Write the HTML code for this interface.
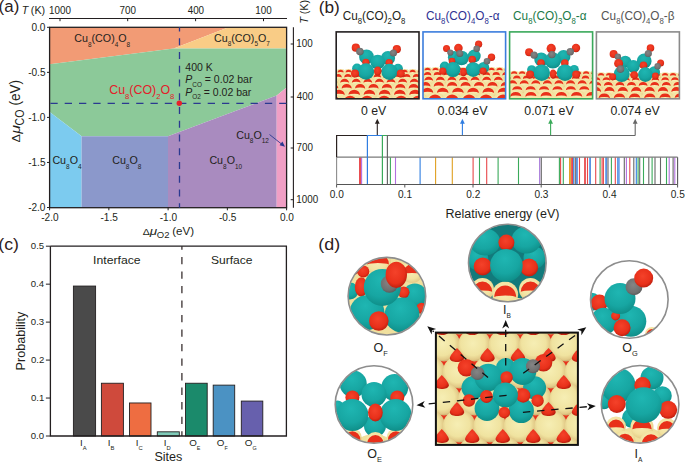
<!DOCTYPE html>
<html><head><meta charset="utf-8"><style>html,body{margin:0;padding:0;background:#fff;}svg{display:block;}</style></head>
<body><svg width="685" height="463" viewBox="0 0 685 463" font-family='"Liberation Sans", sans-serif'>
<defs>
<radialGradient id="gT" cx="0.45" cy="0.3" r="0.75"><stop offset="0" stop-color="#1fb6b2"/><stop offset="0.6" stop-color="#17a6a2"/><stop offset="1" stop-color="#0d8a84"/></radialGradient>
<radialGradient id="gR" cx="0.45" cy="0.4" r="0.62"><stop offset="0" stop-color="#f4422a"/><stop offset="0.7" stop-color="#e8301a"/><stop offset="1" stop-color="#ba1e0e"/></radialGradient>
<radialGradient id="gG" cx="0.45" cy="0.4" r="0.65"><stop offset="0" stop-color="#858585"/><stop offset="0.7" stop-color="#707070"/><stop offset="1" stop-color="#555555"/></radialGradient>
<radialGradient id="gC" cx="0.45" cy="0.4" r="0.7"><stop offset="0" stop-color="#f8efba"/><stop offset="0.6" stop-color="#f2e2a0"/><stop offset="1" stop-color="#dcc07c"/></radialGradient>
<radialGradient id="gC2" cx="0.45" cy="0.45" r="0.53"><stop offset="0" stop-color="#f6eeb4"/><stop offset="0.7" stop-color="#f0e3a0"/><stop offset="0.93" stop-color="#e2ca88"/><stop offset="1" stop-color="#d2b676"/></radialGradient>
</defs>
<rect width="685" height="463" fill="#ffffff"/>
<polygon points="49.6,27.3 228.5,27.3 173.7,48.6 49.6,64.2" fill="#f29b75"/>
<polygon points="173.7,48.6 228.5,27.3 286.6,27.3 286.6,48.6" fill="#f9cc86"/>
<polygon points="49.6,64.2 173.7,48.6 286.6,48.6 286.6,87.6 276.7,95.6 168.0,136.3 81.6,136.3 49.6,112.1" fill="#8cc999"/>
<polygon points="49.6,112.1 81.6,136.3 81.6,207.7 49.6,207.7" fill="#7ccbef"/>
<polygon points="81.6,136.3 168.0,136.3 168.0,207.7 81.6,207.7" fill="#8b98cb"/>
<polygon points="168.0,136.3 276.7,95.6 276.7,207.7 168.0,207.7" fill="#a98bbf"/>
<polygon points="276.7,95.6 286.6,87.6 286.6,207.7 276.7,207.7" fill="#f09fc5"/>
<rect x="49.6" y="27.3" width="237.00000000000003" height="180.39999999999998" fill="none" stroke="#231f20" stroke-width="1.3"/>
<line x1="179.5" y1="27.3" x2="179.5" y2="207.7" stroke="#2b3990" stroke-width="1.3" stroke-dasharray="6.9 6.85" stroke-dashoffset="2.75"/>
<line x1="49.6" y1="103.3" x2="286.6" y2="103.3" stroke="#2b3990" stroke-width="1.3" stroke-dasharray="7.3 7.0" stroke-dashoffset="13.5"/>
<circle cx="179.3" cy="103.3" r="2.7" fill="#e8202a"/>
<line x1="47.0" y1="27.30" x2="49.6" y2="27.30" stroke="#231f20" stroke-width="1"/>
<text x="31.46" y="30.8" font-size="10.6" textLength="14.00" lengthAdjust="spacingAndGlyphs" fill="#231f20" >0.0</text>
<line x1="47.0" y1="72.35" x2="49.6" y2="72.35" stroke="#231f20" stroke-width="1"/>
<text x="28.18" y="75.85" font-size="10.6" textLength="17.35" lengthAdjust="spacingAndGlyphs" fill="#231f20" >-0.5</text>
<line x1="47.0" y1="117.40" x2="49.6" y2="117.40" stroke="#231f20" stroke-width="1"/>
<text x="28.13" y="120.9" font-size="10.6" textLength="17.35" lengthAdjust="spacingAndGlyphs" fill="#231f20" >-1.0</text>
<line x1="47.0" y1="162.45" x2="49.6" y2="162.45" stroke="#231f20" stroke-width="1"/>
<text x="28.18" y="165.95" font-size="10.6" textLength="17.35" lengthAdjust="spacingAndGlyphs" fill="#231f20" >-1.5</text>
<line x1="47.0" y1="207.50" x2="49.6" y2="207.50" stroke="#231f20" stroke-width="1"/>
<text x="28.13" y="211.0" font-size="10.6" textLength="17.35" lengthAdjust="spacingAndGlyphs" fill="#231f20" >-2.0</text>
<line x1="49.60" y1="207.7" x2="49.60" y2="210.29999999999998" stroke="#231f20" stroke-width="1"/>
<text x="41.19" y="220.7" font-size="10.6" textLength="17.35" lengthAdjust="spacingAndGlyphs" fill="#231f20" >-2.0</text>
<line x1="108.85" y1="207.7" x2="108.85" y2="210.29999999999998" stroke="#231f20" stroke-width="1"/>
<text x="100.46" y="220.7" font-size="10.6" textLength="17.35" lengthAdjust="spacingAndGlyphs" fill="#231f20" >-1.5</text>
<line x1="168.10" y1="207.7" x2="168.10" y2="210.29999999999998" stroke="#231f20" stroke-width="1"/>
<text x="159.69" y="220.7" font-size="10.6" textLength="17.35" lengthAdjust="spacingAndGlyphs" fill="#231f20" >-1.0</text>
<line x1="227.35" y1="207.7" x2="227.35" y2="210.29999999999998" stroke="#231f20" stroke-width="1"/>
<text x="218.96" y="220.7" font-size="10.6" textLength="17.35" lengthAdjust="spacingAndGlyphs" fill="#231f20" >-0.5</text>
<line x1="286.60" y1="207.7" x2="286.60" y2="210.29999999999998" stroke="#231f20" stroke-width="1"/>
<text x="279.88" y="220.7" font-size="10.6" textLength="14.00" lengthAdjust="spacingAndGlyphs" fill="#231f20" >0.0</text>
<line x1="49" y1="18.5" x2="287" y2="18.5" stroke="#231f20" stroke-width="1.1"/>
<line x1="60" y1="18.5" x2="60" y2="21.2" stroke="#231f20" stroke-width="1"/>
<text x="49.04" y="13.5" font-size="10.6" textLength="21.93" lengthAdjust="spacingAndGlyphs" fill="#231f20" >1000</text>
<line x1="127.7" y1="18.5" x2="127.7" y2="21.2" stroke="#231f20" stroke-width="1"/>
<text x="119.62" y="13.5" font-size="10.6" textLength="16.45" lengthAdjust="spacingAndGlyphs" fill="#231f20" >700</text>
<line x1="195.6" y1="18.5" x2="195.6" y2="21.2" stroke="#231f20" stroke-width="1"/>
<text x="187.67" y="13.5" font-size="10.6" textLength="16.45" lengthAdjust="spacingAndGlyphs" fill="#231f20" >400</text>
<line x1="263.5" y1="18.5" x2="263.5" y2="21.2" stroke="#231f20" stroke-width="1"/>
<text x="255.30" y="13.5" font-size="10.6" textLength="16.45" lengthAdjust="spacingAndGlyphs" fill="#231f20" >100</text>
<line x1="293.4" y1="27.3" x2="293.4" y2="207.7" stroke="#231f20" stroke-width="1.1"/>
<line x1="290.7" y1="44" x2="293.4" y2="44" stroke="#231f20" stroke-width="1"/>
<text x="296.26" y="47.4" font-size="10.6" textLength="16.45" lengthAdjust="spacingAndGlyphs" fill="#231f20" >100</text>
<line x1="290.7" y1="97" x2="293.4" y2="97" stroke="#231f20" stroke-width="1"/>
<text x="296.80" y="100.4" font-size="10.6" textLength="16.45" lengthAdjust="spacingAndGlyphs" fill="#231f20" >400</text>
<line x1="290.7" y1="148" x2="293.4" y2="148" stroke="#231f20" stroke-width="1"/>
<text x="296.51" y="151.4" font-size="10.6" textLength="16.45" lengthAdjust="spacingAndGlyphs" fill="#231f20" >700</text>
<line x1="290.7" y1="199.7" x2="293.4" y2="199.7" stroke="#231f20" stroke-width="1"/>
<text x="296.26" y="203.1" font-size="10.6" textLength="21.93" lengthAdjust="spacingAndGlyphs" fill="#231f20" >1000</text>
<text x="-1.41" y="12.4" font-size="16.8" textLength="20.67" lengthAdjust="spacingAndGlyphs" fill="#2b2020" >(a)</text>
<text x="21.64" y="13.9" font-size="10.7" textLength="6.53" lengthAdjust="spacingAndGlyphs" fill="#231f20" font-style="italic" >T</text>
<text x="30.86" y="13.9" font-size="10.7" textLength="14.32" lengthAdjust="spacingAndGlyphs" fill="#231f20" >(K)</text>
<g transform="rotate(-90)">
<text x="-23.71" y="307.9" font-size="10.7" textLength="6.85" lengthAdjust="spacingAndGlyphs" fill="#231f20" font-style="italic" >T</text>
<text x="-14.24" y="307.9" font-size="10.7" textLength="14.32" lengthAdjust="spacingAndGlyphs" fill="#231f20" >(K)</text>
</g>
<g transform="rotate(-90)">
<text x="-142.48" y="19.7" font-size="11.3" textLength="8.43" lengthAdjust="spacingAndGlyphs" fill="#231f20" >Δ</text>
<text x="-133.68" y="20.1" font-size="13.5" textLength="8.67" lengthAdjust="spacingAndGlyphs" fill="#231f20" font-style="italic" >μ</text>
<text x="-125.43" y="23.5" font-size="12.0" textLength="15.75" lengthAdjust="spacingAndGlyphs" fill="#231f20" >CO</text>
<text x="-105.41" y="20.1" font-size="14.0" textLength="25.48" lengthAdjust="spacingAndGlyphs" fill="#231f20" >(eV)</text>
</g>
<text x="142.79" y="234.7" font-size="9.6" textLength="7.01" lengthAdjust="spacingAndGlyphs" fill="#231f20" >Δ</text>
<text x="149.87" y="234.7" font-size="11.3" textLength="7.37" lengthAdjust="spacingAndGlyphs" fill="#231f20" font-style="italic" >μ</text>
<text x="156.87" y="238.2" font-size="9.2" textLength="12.69" lengthAdjust="spacingAndGlyphs" fill="#231f20" >O2</text>
<text x="172.21" y="234.7" font-size="11.3" textLength="21.84" lengthAdjust="spacingAndGlyphs" fill="#231f20" >(eV)</text>
<text x="74.3" y="42.3" fill="#231f20"><tspan font-size="10.7">Cu</tspan><tspan dy="4.40" font-size="6.42">8</tspan><tspan dy="-4.40" font-size="10.7">&#8203;</tspan><tspan font-size="10.7">(CO)</tspan><tspan dy="4.40" font-size="6.42">4</tspan><tspan dy="-4.40" font-size="10.7">&#8203;</tspan><tspan font-size="10.7">O</tspan><tspan dy="4.40" font-size="6.42">8</tspan><tspan dy="-4.40" font-size="10.7">&#8203;</tspan></text>
<text x="214.0" y="41.6" fill="#231f20"><tspan font-size="10.7">Cu</tspan><tspan dy="4.40" font-size="6.42">8</tspan><tspan dy="-4.40" font-size="10.7">&#8203;</tspan><tspan font-size="10.7">(CO)</tspan><tspan dy="4.40" font-size="6.42">5</tspan><tspan dy="-4.40" font-size="10.7">&#8203;</tspan><tspan font-size="10.7">O</tspan><tspan dy="4.40" font-size="6.42">7</tspan><tspan dy="-4.40" font-size="10.7">&#8203;</tspan></text>
<text x="52.4" y="164.1" fill="#231f20"><tspan font-size="10.7">Cu</tspan><tspan dy="4.40" font-size="6.42">8</tspan><tspan dy="-4.40" font-size="10.7">&#8203;</tspan><tspan font-size="10.7">O</tspan><tspan dy="4.40" font-size="6.42">4</tspan><tspan dy="-4.40" font-size="10.7">&#8203;</tspan></text>
<text x="112.2" y="164.1" fill="#231f20"><tspan font-size="10.7">Cu</tspan><tspan dy="4.40" font-size="6.42">8</tspan><tspan dy="-4.40" font-size="10.7">&#8203;</tspan><tspan font-size="10.7">O</tspan><tspan dy="4.40" font-size="6.42">8</tspan><tspan dy="-4.40" font-size="10.7">&#8203;</tspan></text>
<text x="209.4" y="164.1" fill="#231f20"><tspan font-size="10.7">Cu</tspan><tspan dy="4.40" font-size="6.42">8</tspan><tspan dy="-4.40" font-size="10.7">&#8203;</tspan><tspan font-size="10.7">O</tspan><tspan dy="4.40" font-size="6.42">10</tspan><tspan dy="-4.40" font-size="10.7">&#8203;</tspan></text>
<text x="236.2" y="138.8" fill="#231f20"><tspan font-size="10.7">Cu</tspan><tspan dy="4.40" font-size="6.42">8</tspan><tspan dy="-4.40" font-size="10.7">&#8203;</tspan><tspan font-size="10.7">O</tspan><tspan dy="4.40" font-size="6.42">12</tspan><tspan dy="-4.40" font-size="10.7">&#8203;</tspan></text>
<text x="109.2" y="94.4" fill="#e3202a"><tspan font-size="12.4">Cu</tspan><tspan dy="4.60" font-size="7.69">8</tspan><tspan dy="-4.60" font-size="12.4">&#8203;</tspan><tspan font-size="12.4">(CO)</tspan><tspan dy="4.60" font-size="7.69">2</tspan><tspan dy="-4.60" font-size="12.4">&#8203;</tspan><tspan font-size="12.4">O</tspan><tspan dy="4.60" font-size="7.69">8</tspan><tspan dy="-4.60" font-size="12.4">&#8203;</tspan></text>
<text x="185.3" y="70.6" font-size="10.5" text-anchor="start" fill="#231f20" >400 K</text>
<text x="185.3" y="83.2" font-size="10.5" fill="#231f20"><tspan font-style="italic">P</tspan><tspan dy="3.6" font-size="6.4">CO</tspan><tspan dy="-3.6"> = 0.02 bar</tspan></text>
<text x="185.3" y="95.6" font-size="10.5" fill="#231f20"><tspan font-style="italic">P</tspan><tspan dy="3.6" font-size="6.4">O2</tspan><tspan dy="-3.6"> = 0.02 bar</tspan></text>
<line x1="269.5" y1="134.5" x2="282.5" y2="144.8" stroke="#2b3990" stroke-width="0.9"/>
<polygon points="285,146.8 279.6,145.2 282.4,141.6" fill="#2b3990"/>
<text x="318.72" y="12.8" font-size="16.8" textLength="21.06" lengthAdjust="spacingAndGlyphs" fill="#2b2020" >(b)</text>
<clipPath id="cb"><rect x="0" y="0" width="83" height="67"/></clipPath>
<g transform="translate(342.7,20.2) scale(0.94,1)"><text x="0" y="0" fill="#231f20"><tspan font-size="12.55">Cu</tspan><tspan dy="4.10" font-size="8.28">8</tspan><tspan dy="-4.10" font-size="12.55">&#8203;</tspan><tspan font-size="12.55">(CO)</tspan><tspan dy="4.10" font-size="8.28">2</tspan><tspan dy="-4.10" font-size="12.55">&#8203;</tspan><tspan font-size="12.55">O</tspan><tspan dy="4.10" font-size="8.28">8</tspan><tspan dy="-4.10" font-size="12.55">&#8203;</tspan></text></g>
<text x="360.91" y="114.9" font-size="12.1" textLength="25.28" lengthAdjust="spacingAndGlyphs" fill="#231f20" >0 eV</text>
<clipPath id="cpb0"><rect x="336.2" y="31.9" width="82.80000000000001" height="66.9"/></clipPath>
<g clip-path="url(#cpb0)"><rect x="336.2" y="71.6" width="82.80000000000001" height="33.400000000000006" fill="#ecd894"/><ellipse cx="332.6" cy="72.5" rx="4.6" ry="3.4" fill="url(#gC)"/><path d="M329.6,72.6 A3.0,2.8 0 0 1 335.6,72.6 A3.2,0.9 0 0 0 329.6,72.6Z" fill="#e9301a"/><ellipse cx="340.6" cy="72.5" rx="4.6" ry="3.4" fill="url(#gC)"/><path d="M337.6,72.6 A3.0,2.8 0 0 1 343.6,72.6 A3.2,0.9 0 0 0 337.6,72.6Z" fill="#e9301a"/><ellipse cx="348.6" cy="72.5" rx="4.6" ry="3.4" fill="url(#gC)"/><path d="M345.6,72.6 A3.0,2.8 0 0 1 351.6,72.6 A3.2,0.9 0 0 0 345.6,72.6Z" fill="#e9301a"/><ellipse cx="356.6" cy="72.5" rx="4.6" ry="3.4" fill="url(#gC)"/><path d="M353.6,72.6 A3.0,2.8 0 0 1 359.6,72.6 A3.2,0.9 0 0 0 353.6,72.6Z" fill="#e9301a"/><ellipse cx="364.6" cy="72.5" rx="4.6" ry="3.4" fill="url(#gC)"/><path d="M361.6,72.6 A3.0,2.8 0 0 1 367.6,72.6 A3.2,0.9 0 0 0 361.6,72.6Z" fill="#e9301a"/><ellipse cx="372.6" cy="72.5" rx="4.6" ry="3.4" fill="url(#gC)"/><path d="M369.6,72.6 A3.0,2.8 0 0 1 375.6,72.6 A3.2,0.9 0 0 0 369.6,72.6Z" fill="#e9301a"/><ellipse cx="380.6" cy="72.5" rx="4.6" ry="3.4" fill="url(#gC)"/><path d="M377.6,72.6 A3.0,2.8 0 0 1 383.6,72.6 A3.2,0.9 0 0 0 377.6,72.6Z" fill="#e9301a"/><ellipse cx="388.6" cy="72.5" rx="4.6" ry="3.4" fill="url(#gC)"/><path d="M385.6,72.6 A3.0,2.8 0 0 1 391.6,72.6 A3.2,0.9 0 0 0 385.6,72.6Z" fill="#e9301a"/><ellipse cx="396.6" cy="72.5" rx="4.6" ry="3.4" fill="url(#gC)"/><path d="M393.6,72.6 A3.0,2.8 0 0 1 399.6,72.6 A3.2,0.9 0 0 0 393.6,72.6Z" fill="#e9301a"/><ellipse cx="404.6" cy="72.5" rx="4.6" ry="3.4" fill="url(#gC)"/><path d="M401.6,72.6 A3.0,2.8 0 0 1 407.6,72.6 A3.2,0.9 0 0 0 401.6,72.6Z" fill="#e9301a"/><ellipse cx="412.6" cy="72.5" rx="4.6" ry="3.4" fill="url(#gC)"/><path d="M409.6,72.6 A3.0,2.8 0 0 1 415.6,72.6 A3.2,0.9 0 0 0 409.6,72.6Z" fill="#e9301a"/><ellipse cx="420.6" cy="72.5" rx="4.6" ry="3.4" fill="url(#gC)"/><path d="M417.6,72.6 A3.0,2.8 0 0 1 423.6,72.6 A3.2,0.9 0 0 0 417.6,72.6Z" fill="#e9301a"/><ellipse cx="338.1" cy="77.3" rx="5.7" ry="4.2" fill="url(#gC)"/><path d="M334.4,77.5 A3.7,3.5 0 0 1 341.8,77.5 A3.9,1.2 0 0 0 334.4,77.5Z" fill="#e9301a"/><ellipse cx="347.9" cy="77.3" rx="5.7" ry="4.2" fill="url(#gC)"/><path d="M344.2,77.5 A3.7,3.5 0 0 1 351.6,77.5 A3.9,1.2 0 0 0 344.2,77.5Z" fill="#e9301a"/><ellipse cx="357.7" cy="77.3" rx="5.7" ry="4.2" fill="url(#gC)"/><path d="M354.0,77.5 A3.7,3.5 0 0 1 361.4,77.5 A3.9,1.2 0 0 0 354.0,77.5Z" fill="#e9301a"/><ellipse cx="367.5" cy="77.3" rx="5.7" ry="4.2" fill="url(#gC)"/><path d="M363.8,77.5 A3.7,3.5 0 0 1 371.2,77.5 A3.9,1.2 0 0 0 363.8,77.5Z" fill="#e9301a"/><ellipse cx="377.3" cy="77.3" rx="5.7" ry="4.2" fill="url(#gC)"/><path d="M373.6,77.5 A3.7,3.5 0 0 1 381.0,77.5 A3.9,1.2 0 0 0 373.6,77.5Z" fill="#e9301a"/><ellipse cx="387.1" cy="77.3" rx="5.7" ry="4.2" fill="url(#gC)"/><path d="M383.4,77.5 A3.7,3.5 0 0 1 390.8,77.5 A3.9,1.2 0 0 0 383.4,77.5Z" fill="#e9301a"/><ellipse cx="396.9" cy="77.3" rx="5.7" ry="4.2" fill="url(#gC)"/><path d="M393.2,77.5 A3.7,3.5 0 0 1 400.6,77.5 A3.9,1.2 0 0 0 393.2,77.5Z" fill="#e9301a"/><ellipse cx="406.7" cy="77.3" rx="5.7" ry="4.2" fill="url(#gC)"/><path d="M403.0,77.5 A3.7,3.5 0 0 1 410.4,77.5 A3.9,1.2 0 0 0 403.0,77.5Z" fill="#e9301a"/><ellipse cx="416.5" cy="77.3" rx="5.7" ry="4.2" fill="url(#gC)"/><path d="M412.8,77.5 A3.7,3.5 0 0 1 420.2,77.5 A3.9,1.2 0 0 0 412.8,77.5Z" fill="#e9301a"/><ellipse cx="426.3" cy="77.3" rx="5.7" ry="4.2" fill="url(#gC)"/><path d="M422.6,77.5 A3.7,3.5 0 0 1 430.0,77.5 A3.9,1.2 0 0 0 422.6,77.5Z" fill="#e9301a"/><ellipse cx="333.0" cy="82.6" rx="6.7" ry="4.9" fill="url(#gC)"/><path d="M328.6,82.8 A4.4,4.1 0 0 1 337.4,82.8 A4.6,1.4 0 0 0 328.6,82.8Z" fill="#e9301a"/><ellipse cx="344.6" cy="82.6" rx="6.7" ry="4.9" fill="url(#gC)"/><path d="M340.2,82.8 A4.4,4.1 0 0 1 349.0,82.8 A4.6,1.4 0 0 0 340.2,82.8Z" fill="#e9301a"/><ellipse cx="356.2" cy="82.6" rx="6.7" ry="4.9" fill="url(#gC)"/><path d="M351.8,82.8 A4.4,4.1 0 0 1 360.6,82.8 A4.6,1.4 0 0 0 351.8,82.8Z" fill="#e9301a"/><ellipse cx="367.8" cy="82.6" rx="6.7" ry="4.9" fill="url(#gC)"/><path d="M363.4,82.8 A4.4,4.1 0 0 1 372.2,82.8 A4.6,1.4 0 0 0 363.4,82.8Z" fill="#e9301a"/><ellipse cx="379.4" cy="82.6" rx="6.7" ry="4.9" fill="url(#gC)"/><path d="M375.0,82.8 A4.4,4.1 0 0 1 383.8,82.8 A4.6,1.4 0 0 0 375.0,82.8Z" fill="#e9301a"/><ellipse cx="391.0" cy="82.6" rx="6.7" ry="4.9" fill="url(#gC)"/><path d="M386.6,82.8 A4.4,4.1 0 0 1 395.4,82.8 A4.6,1.4 0 0 0 386.6,82.8Z" fill="#e9301a"/><ellipse cx="402.6" cy="82.6" rx="6.7" ry="4.9" fill="url(#gC)"/><path d="M398.2,82.8 A4.4,4.1 0 0 1 407.0,82.8 A4.6,1.4 0 0 0 398.2,82.8Z" fill="#e9301a"/><ellipse cx="414.2" cy="82.6" rx="6.7" ry="4.9" fill="url(#gC)"/><path d="M409.8,82.8 A4.4,4.1 0 0 1 418.6,82.8 A4.6,1.4 0 0 0 409.8,82.8Z" fill="#e9301a"/><ellipse cx="425.8" cy="82.6" rx="6.7" ry="4.9" fill="url(#gC)"/><path d="M421.4,82.8 A4.4,4.1 0 0 1 430.2,82.8 A4.6,1.4 0 0 0 421.4,82.8Z" fill="#e9301a"/><ellipse cx="333.3" cy="88.4" rx="7.8" ry="5.7" fill="url(#gC)"/><path d="M328.2,88.7 A5.1,4.8 0 0 1 338.4,88.7 A5.3,1.6 0 0 0 328.2,88.7Z" fill="#e9301a"/><ellipse cx="346.7" cy="88.4" rx="7.8" ry="5.7" fill="url(#gC)"/><path d="M341.6,88.7 A5.1,4.8 0 0 1 351.8,88.7 A5.3,1.6 0 0 0 341.6,88.7Z" fill="#e9301a"/><ellipse cx="360.1" cy="88.4" rx="7.8" ry="5.7" fill="url(#gC)"/><path d="M355.0,88.7 A5.1,4.8 0 0 1 365.2,88.7 A5.3,1.6 0 0 0 355.0,88.7Z" fill="#e9301a"/><ellipse cx="373.5" cy="88.4" rx="7.8" ry="5.7" fill="url(#gC)"/><path d="M368.4,88.7 A5.1,4.8 0 0 1 378.6,88.7 A5.3,1.6 0 0 0 368.4,88.7Z" fill="#e9301a"/><ellipse cx="386.9" cy="88.4" rx="7.8" ry="5.7" fill="url(#gC)"/><path d="M381.8,88.7 A5.1,4.8 0 0 1 392.0,88.7 A5.3,1.6 0 0 0 381.8,88.7Z" fill="#e9301a"/><ellipse cx="400.3" cy="88.4" rx="7.8" ry="5.7" fill="url(#gC)"/><path d="M395.2,88.7 A5.1,4.8 0 0 1 405.4,88.7 A5.3,1.6 0 0 0 395.2,88.7Z" fill="#e9301a"/><ellipse cx="413.7" cy="88.4" rx="7.8" ry="5.7" fill="url(#gC)"/><path d="M408.6,88.7 A5.1,4.8 0 0 1 418.8,88.7 A5.3,1.6 0 0 0 408.6,88.7Z" fill="#e9301a"/><ellipse cx="427.1" cy="88.4" rx="7.8" ry="5.7" fill="url(#gC)"/><path d="M422.0,88.7 A5.1,4.8 0 0 1 432.2,88.7 A5.3,1.6 0 0 0 422.0,88.7Z" fill="#e9301a"/><ellipse cx="323.8" cy="94.7" rx="8.8" ry="6.4" fill="url(#gC)"/><path d="M318.0,95.1 A5.8,5.4 0 0 1 329.6,95.1 A6.1,1.8 0 0 0 318.0,95.1Z" fill="#e9301a"/><ellipse cx="339.0" cy="94.7" rx="8.8" ry="6.4" fill="url(#gC)"/><path d="M333.2,95.1 A5.8,5.4 0 0 1 344.8,95.1 A6.1,1.8 0 0 0 333.2,95.1Z" fill="#e9301a"/><ellipse cx="354.2" cy="94.7" rx="8.8" ry="6.4" fill="url(#gC)"/><path d="M348.4,95.1 A5.8,5.4 0 0 1 360.0,95.1 A6.1,1.8 0 0 0 348.4,95.1Z" fill="#e9301a"/><ellipse cx="369.4" cy="94.7" rx="8.8" ry="6.4" fill="url(#gC)"/><path d="M363.6,95.1 A5.8,5.4 0 0 1 375.2,95.1 A6.1,1.8 0 0 0 363.6,95.1Z" fill="#e9301a"/><ellipse cx="384.6" cy="94.7" rx="8.8" ry="6.4" fill="url(#gC)"/><path d="M378.8,95.1 A5.8,5.4 0 0 1 390.4,95.1 A6.1,1.8 0 0 0 378.8,95.1Z" fill="#e9301a"/><ellipse cx="399.8" cy="94.7" rx="8.8" ry="6.4" fill="url(#gC)"/><path d="M394.0,95.1 A5.8,5.4 0 0 1 405.6,95.1 A6.1,1.8 0 0 0 394.0,95.1Z" fill="#e9301a"/><ellipse cx="415.0" cy="94.7" rx="8.8" ry="6.4" fill="url(#gC)"/><path d="M409.2,95.1 A5.8,5.4 0 0 1 420.8,95.1 A6.1,1.8 0 0 0 409.2,95.1Z" fill="#e9301a"/><ellipse cx="430.2" cy="94.7" rx="8.8" ry="6.4" fill="url(#gC)"/><path d="M424.4,95.1 A5.8,5.4 0 0 1 436.0,95.1 A6.1,1.8 0 0 0 424.4,95.1Z" fill="#e9301a"/><ellipse cx="333.1" cy="101.6" rx="9.9" ry="7.2" fill="url(#gC)"/><path d="M326.6,101.9 A6.5,6.1 0 0 1 339.6,101.9 A6.8,2.0 0 0 0 326.6,101.9Z" fill="#e9301a"/><ellipse cx="350.1" cy="101.6" rx="9.9" ry="7.2" fill="url(#gC)"/><path d="M343.6,101.9 A6.5,6.1 0 0 1 356.6,101.9 A6.8,2.0 0 0 0 343.6,101.9Z" fill="#e9301a"/><ellipse cx="367.1" cy="101.6" rx="9.9" ry="7.2" fill="url(#gC)"/><path d="M360.6,101.9 A6.5,6.1 0 0 1 373.6,101.9 A6.8,2.0 0 0 0 360.6,101.9Z" fill="#e9301a"/><ellipse cx="384.1" cy="101.6" rx="9.9" ry="7.2" fill="url(#gC)"/><path d="M377.6,101.9 A6.5,6.1 0 0 1 390.6,101.9 A6.8,2.0 0 0 0 377.6,101.9Z" fill="#e9301a"/><ellipse cx="401.1" cy="101.6" rx="9.9" ry="7.2" fill="url(#gC)"/><path d="M394.6,101.9 A6.5,6.1 0 0 1 407.6,101.9 A6.8,2.0 0 0 0 394.6,101.9Z" fill="#e9301a"/><ellipse cx="418.1" cy="101.6" rx="9.9" ry="7.2" fill="url(#gC)"/><path d="M411.6,101.9 A6.5,6.1 0 0 1 424.6,101.9 A6.8,2.0 0 0 0 411.6,101.9Z" fill="#e9301a"/><ellipse cx="435.1" cy="101.6" rx="9.9" ry="7.2" fill="url(#gC)"/><path d="M428.6,101.9 A6.5,6.1 0 0 1 441.6,101.9 A6.8,2.0 0 0 0 428.6,101.9Z" fill="#e9301a"/><ellipse cx="329.0" cy="109.0" rx="10.9" ry="8.0" fill="url(#gC)"/><path d="M321.8,109.4 A7.1,6.7 0 0 1 336.1,109.4 A7.5,2.2 0 0 0 321.8,109.4Z" fill="#e9301a"/><ellipse cx="347.8" cy="109.0" rx="10.9" ry="8.0" fill="url(#gC)"/><path d="M340.6,109.4 A7.1,6.7 0 0 1 354.9,109.4 A7.5,2.2 0 0 0 340.6,109.4Z" fill="#e9301a"/><ellipse cx="366.6" cy="109.0" rx="10.9" ry="8.0" fill="url(#gC)"/><path d="M359.4,109.4 A7.1,6.7 0 0 1 373.7,109.4 A7.5,2.2 0 0 0 359.4,109.4Z" fill="#e9301a"/><ellipse cx="385.4" cy="109.0" rx="10.9" ry="8.0" fill="url(#gC)"/><path d="M378.2,109.4 A7.1,6.7 0 0 1 392.5,109.4 A7.5,2.2 0 0 0 378.2,109.4Z" fill="#e9301a"/><ellipse cx="404.2" cy="109.0" rx="10.9" ry="8.0" fill="url(#gC)"/><path d="M397.1,109.4 A7.1,6.7 0 0 1 411.3,109.4 A7.5,2.2 0 0 0 397.1,109.4Z" fill="#e9301a"/><ellipse cx="423.0" cy="109.0" rx="10.9" ry="8.0" fill="url(#gC)"/><path d="M415.9,109.4 A7.1,6.7 0 0 1 430.1,109.4 A7.5,2.2 0 0 0 415.9,109.4Z" fill="#e9301a"/><circle cx="357.0" cy="68.5" r="4.9" fill="url(#gT)"/><circle cx="398.0" cy="68.6" r="4.9" fill="url(#gT)"/><circle cx="366.5" cy="56.8" r="7.4" fill="url(#gT)"/><circle cx="388.0" cy="58.0" r="7.1" fill="url(#gT)"/><circle cx="377.7" cy="62.0" r="7.3" fill="url(#gT)"/><circle cx="365.9" cy="62.3" r="3.6" fill="url(#gR)"/><circle cx="389.1" cy="62.7" r="3.6" fill="url(#gR)"/><circle cx="355.8" cy="47.7" r="4.1" fill="url(#gR)"/><circle cx="359.9" cy="51.6" r="3.8" fill="url(#gG)"/><circle cx="396.8" cy="49.2" r="4.1" fill="url(#gR)"/><circle cx="393.4" cy="53.0" r="3.6" fill="url(#gG)"/><circle cx="366.0" cy="71.5" r="8.2" fill="url(#gT)"/><circle cx="389.4" cy="71.8" r="8.1" fill="url(#gT)"/><ellipse cx="377.7" cy="71.0" rx="3.6" ry="4.5" fill="url(#gR)"/><circle cx="355.0" cy="73.6" r="4.0" fill="url(#gR)"/><circle cx="400.8" cy="73.6" r="4.0" fill="url(#gR)"/></g>
<rect x="336.2" y="31.9" width="82.80000000000001" height="66.9" fill="none" stroke="#231f20" stroke-width="1.6"/>
<g transform="translate(426.0,20.2) scale(0.94,1)"><text x="0" y="0" fill="#2e3192"><tspan font-size="12.55">Cu</tspan><tspan dy="4.10" font-size="8.28">8</tspan><tspan dy="-4.10" font-size="12.55">&#8203;</tspan><tspan font-size="12.55">(CO)</tspan><tspan dy="4.10" font-size="8.28">4</tspan><tspan dy="-4.10" font-size="12.55">&#8203;</tspan><tspan font-size="12.55">O</tspan><tspan dy="4.10" font-size="8.28">8</tspan><tspan dy="-4.10" font-size="12.55">&#8203;</tspan><tspan font-size="12.55">-&#945;</tspan></text></g>
<text x="437.50" y="114.9" font-size="12.1" textLength="50.11" lengthAdjust="spacingAndGlyphs" fill="#231f20" >0.034 eV</text>
<clipPath id="cpb1"><rect x="423.0" y="31.9" width="82.60000000000002" height="66.9"/></clipPath>
<g clip-path="url(#cpb1)"><rect x="423.0" y="69.6" width="82.60000000000002" height="35.400000000000006" fill="#ecd894"/><ellipse cx="419.5" cy="70.5" rx="4.6" ry="3.4" fill="url(#gC)"/><path d="M416.5,70.6 A3.0,2.8 0 0 1 422.6,70.6 A3.2,0.9 0 0 0 416.5,70.6Z" fill="#e9301a"/><ellipse cx="427.5" cy="70.5" rx="4.6" ry="3.4" fill="url(#gC)"/><path d="M424.5,70.6 A3.0,2.8 0 0 1 430.6,70.6 A3.2,0.9 0 0 0 424.5,70.6Z" fill="#e9301a"/><ellipse cx="435.5" cy="70.5" rx="4.6" ry="3.4" fill="url(#gC)"/><path d="M432.5,70.6 A3.0,2.8 0 0 1 438.6,70.6 A3.2,0.9 0 0 0 432.5,70.6Z" fill="#e9301a"/><ellipse cx="443.5" cy="70.5" rx="4.6" ry="3.4" fill="url(#gC)"/><path d="M440.5,70.6 A3.0,2.8 0 0 1 446.6,70.6 A3.2,0.9 0 0 0 440.5,70.6Z" fill="#e9301a"/><ellipse cx="451.5" cy="70.5" rx="4.6" ry="3.4" fill="url(#gC)"/><path d="M448.5,70.6 A3.0,2.8 0 0 1 454.6,70.6 A3.2,0.9 0 0 0 448.5,70.6Z" fill="#e9301a"/><ellipse cx="459.5" cy="70.5" rx="4.6" ry="3.4" fill="url(#gC)"/><path d="M456.5,70.6 A3.0,2.8 0 0 1 462.6,70.6 A3.2,0.9 0 0 0 456.5,70.6Z" fill="#e9301a"/><ellipse cx="467.5" cy="70.5" rx="4.6" ry="3.4" fill="url(#gC)"/><path d="M464.5,70.6 A3.0,2.8 0 0 1 470.6,70.6 A3.2,0.9 0 0 0 464.5,70.6Z" fill="#e9301a"/><ellipse cx="475.5" cy="70.5" rx="4.6" ry="3.4" fill="url(#gC)"/><path d="M472.5,70.6 A3.0,2.8 0 0 1 478.6,70.6 A3.2,0.9 0 0 0 472.5,70.6Z" fill="#e9301a"/><ellipse cx="483.5" cy="70.5" rx="4.6" ry="3.4" fill="url(#gC)"/><path d="M480.5,70.6 A3.0,2.8 0 0 1 486.6,70.6 A3.2,0.9 0 0 0 480.5,70.6Z" fill="#e9301a"/><ellipse cx="491.5" cy="70.5" rx="4.6" ry="3.4" fill="url(#gC)"/><path d="M488.5,70.6 A3.0,2.8 0 0 1 494.6,70.6 A3.2,0.9 0 0 0 488.5,70.6Z" fill="#e9301a"/><ellipse cx="499.5" cy="70.5" rx="4.6" ry="3.4" fill="url(#gC)"/><path d="M496.5,70.6 A3.0,2.8 0 0 1 502.6,70.6 A3.2,0.9 0 0 0 496.5,70.6Z" fill="#e9301a"/><ellipse cx="507.5" cy="70.5" rx="4.6" ry="3.4" fill="url(#gC)"/><path d="M504.5,70.6 A3.0,2.8 0 0 1 510.6,70.6 A3.2,0.9 0 0 0 504.5,70.6Z" fill="#e9301a"/><ellipse cx="427.6" cy="75.3" rx="5.7" ry="4.2" fill="url(#gC)"/><path d="M423.9,75.5 A3.7,3.5 0 0 1 431.3,75.5 A3.9,1.2 0 0 0 423.9,75.5Z" fill="#e9301a"/><ellipse cx="437.4" cy="75.3" rx="5.7" ry="4.2" fill="url(#gC)"/><path d="M433.7,75.5 A3.7,3.5 0 0 1 441.1,75.5 A3.9,1.2 0 0 0 433.7,75.5Z" fill="#e9301a"/><ellipse cx="447.2" cy="75.3" rx="5.7" ry="4.2" fill="url(#gC)"/><path d="M443.5,75.5 A3.7,3.5 0 0 1 450.9,75.5 A3.9,1.2 0 0 0 443.5,75.5Z" fill="#e9301a"/><ellipse cx="457.0" cy="75.3" rx="5.7" ry="4.2" fill="url(#gC)"/><path d="M453.3,75.5 A3.7,3.5 0 0 1 460.7,75.5 A3.9,1.2 0 0 0 453.3,75.5Z" fill="#e9301a"/><ellipse cx="466.8" cy="75.3" rx="5.7" ry="4.2" fill="url(#gC)"/><path d="M463.1,75.5 A3.7,3.5 0 0 1 470.5,75.5 A3.9,1.2 0 0 0 463.1,75.5Z" fill="#e9301a"/><ellipse cx="476.6" cy="75.3" rx="5.7" ry="4.2" fill="url(#gC)"/><path d="M472.9,75.5 A3.7,3.5 0 0 1 480.3,75.5 A3.9,1.2 0 0 0 472.9,75.5Z" fill="#e9301a"/><ellipse cx="486.4" cy="75.3" rx="5.7" ry="4.2" fill="url(#gC)"/><path d="M482.7,75.5 A3.7,3.5 0 0 1 490.1,75.5 A3.9,1.2 0 0 0 482.7,75.5Z" fill="#e9301a"/><ellipse cx="496.2" cy="75.3" rx="5.7" ry="4.2" fill="url(#gC)"/><path d="M492.5,75.5 A3.7,3.5 0 0 1 499.9,75.5 A3.9,1.2 0 0 0 492.5,75.5Z" fill="#e9301a"/><ellipse cx="506.0" cy="75.3" rx="5.7" ry="4.2" fill="url(#gC)"/><path d="M502.3,75.5 A3.7,3.5 0 0 1 509.7,75.5 A3.9,1.2 0 0 0 502.3,75.5Z" fill="#e9301a"/><ellipse cx="417.1" cy="80.6" rx="6.7" ry="4.9" fill="url(#gC)"/><path d="M412.7,80.8 A4.4,4.1 0 0 1 421.5,80.8 A4.6,1.4 0 0 0 412.7,80.8Z" fill="#e9301a"/><ellipse cx="428.7" cy="80.6" rx="6.7" ry="4.9" fill="url(#gC)"/><path d="M424.3,80.8 A4.4,4.1 0 0 1 433.1,80.8 A4.6,1.4 0 0 0 424.3,80.8Z" fill="#e9301a"/><ellipse cx="440.3" cy="80.6" rx="6.7" ry="4.9" fill="url(#gC)"/><path d="M435.9,80.8 A4.4,4.1 0 0 1 444.7,80.8 A4.6,1.4 0 0 0 435.9,80.8Z" fill="#e9301a"/><ellipse cx="451.9" cy="80.6" rx="6.7" ry="4.9" fill="url(#gC)"/><path d="M447.5,80.8 A4.4,4.1 0 0 1 456.3,80.8 A4.6,1.4 0 0 0 447.5,80.8Z" fill="#e9301a"/><ellipse cx="463.5" cy="80.6" rx="6.7" ry="4.9" fill="url(#gC)"/><path d="M459.1,80.8 A4.4,4.1 0 0 1 467.9,80.8 A4.6,1.4 0 0 0 459.1,80.8Z" fill="#e9301a"/><ellipse cx="475.1" cy="80.6" rx="6.7" ry="4.9" fill="url(#gC)"/><path d="M470.7,80.8 A4.4,4.1 0 0 1 479.5,80.8 A4.6,1.4 0 0 0 470.7,80.8Z" fill="#e9301a"/><ellipse cx="486.7" cy="80.6" rx="6.7" ry="4.9" fill="url(#gC)"/><path d="M482.3,80.8 A4.4,4.1 0 0 1 491.1,80.8 A4.6,1.4 0 0 0 482.3,80.8Z" fill="#e9301a"/><ellipse cx="498.3" cy="80.6" rx="6.7" ry="4.9" fill="url(#gC)"/><path d="M493.9,80.8 A4.4,4.1 0 0 1 502.7,80.8 A4.6,1.4 0 0 0 493.9,80.8Z" fill="#e9301a"/><ellipse cx="509.9" cy="80.6" rx="6.7" ry="4.9" fill="url(#gC)"/><path d="M505.5,80.8 A4.4,4.1 0 0 1 514.3,80.8 A4.6,1.4 0 0 0 505.5,80.8Z" fill="#e9301a"/><ellipse cx="425.4" cy="86.4" rx="7.8" ry="5.7" fill="url(#gC)"/><path d="M420.3,86.7 A5.1,4.8 0 0 1 430.5,86.7 A5.3,1.6 0 0 0 420.3,86.7Z" fill="#e9301a"/><ellipse cx="438.8" cy="86.4" rx="7.8" ry="5.7" fill="url(#gC)"/><path d="M433.7,86.7 A5.1,4.8 0 0 1 443.9,86.7 A5.3,1.6 0 0 0 433.7,86.7Z" fill="#e9301a"/><ellipse cx="452.2" cy="86.4" rx="7.8" ry="5.7" fill="url(#gC)"/><path d="M447.1,86.7 A5.1,4.8 0 0 1 457.3,86.7 A5.3,1.6 0 0 0 447.1,86.7Z" fill="#e9301a"/><ellipse cx="465.6" cy="86.4" rx="7.8" ry="5.7" fill="url(#gC)"/><path d="M460.5,86.7 A5.1,4.8 0 0 1 470.7,86.7 A5.3,1.6 0 0 0 460.5,86.7Z" fill="#e9301a"/><ellipse cx="479.0" cy="86.4" rx="7.8" ry="5.7" fill="url(#gC)"/><path d="M473.9,86.7 A5.1,4.8 0 0 1 484.1,86.7 A5.3,1.6 0 0 0 473.9,86.7Z" fill="#e9301a"/><ellipse cx="492.4" cy="86.4" rx="7.8" ry="5.7" fill="url(#gC)"/><path d="M487.3,86.7 A5.1,4.8 0 0 1 497.5,86.7 A5.3,1.6 0 0 0 487.3,86.7Z" fill="#e9301a"/><ellipse cx="505.8" cy="86.4" rx="7.8" ry="5.7" fill="url(#gC)"/><path d="M500.7,86.7 A5.1,4.8 0 0 1 510.9,86.7 A5.3,1.6 0 0 0 500.7,86.7Z" fill="#e9301a"/><ellipse cx="412.3" cy="92.7" rx="8.8" ry="6.4" fill="url(#gC)"/><path d="M406.5,93.1 A5.8,5.4 0 0 1 418.1,93.1 A6.1,1.8 0 0 0 406.5,93.1Z" fill="#e9301a"/><ellipse cx="427.5" cy="92.7" rx="8.8" ry="6.4" fill="url(#gC)"/><path d="M421.7,93.1 A5.8,5.4 0 0 1 433.3,93.1 A6.1,1.8 0 0 0 421.7,93.1Z" fill="#e9301a"/><ellipse cx="442.7" cy="92.7" rx="8.8" ry="6.4" fill="url(#gC)"/><path d="M436.9,93.1 A5.8,5.4 0 0 1 448.5,93.1 A6.1,1.8 0 0 0 436.9,93.1Z" fill="#e9301a"/><ellipse cx="457.9" cy="92.7" rx="8.8" ry="6.4" fill="url(#gC)"/><path d="M452.1,93.1 A5.8,5.4 0 0 1 463.7,93.1 A6.1,1.8 0 0 0 452.1,93.1Z" fill="#e9301a"/><ellipse cx="473.1" cy="92.7" rx="8.8" ry="6.4" fill="url(#gC)"/><path d="M467.3,93.1 A5.8,5.4 0 0 1 478.9,93.1 A6.1,1.8 0 0 0 467.3,93.1Z" fill="#e9301a"/><ellipse cx="488.3" cy="92.7" rx="8.8" ry="6.4" fill="url(#gC)"/><path d="M482.5,93.1 A5.8,5.4 0 0 1 494.1,93.1 A6.1,1.8 0 0 0 482.5,93.1Z" fill="#e9301a"/><ellipse cx="503.5" cy="92.7" rx="8.8" ry="6.4" fill="url(#gC)"/><path d="M497.7,93.1 A5.8,5.4 0 0 1 509.3,93.1 A6.1,1.8 0 0 0 497.7,93.1Z" fill="#e9301a"/><ellipse cx="518.7" cy="92.7" rx="8.8" ry="6.4" fill="url(#gC)"/><path d="M512.9,93.1 A5.8,5.4 0 0 1 524.5,93.1 A6.1,1.8 0 0 0 512.9,93.1Z" fill="#e9301a"/><ellipse cx="418.0" cy="99.6" rx="9.9" ry="7.2" fill="url(#gC)"/><path d="M411.6,99.9 A6.5,6.1 0 0 1 424.5,99.9 A6.8,2.0 0 0 0 411.6,99.9Z" fill="#e9301a"/><ellipse cx="435.0" cy="99.6" rx="9.9" ry="7.2" fill="url(#gC)"/><path d="M428.6,99.9 A6.5,6.1 0 0 1 441.5,99.9 A6.8,2.0 0 0 0 428.6,99.9Z" fill="#e9301a"/><ellipse cx="452.0" cy="99.6" rx="9.9" ry="7.2" fill="url(#gC)"/><path d="M445.6,99.9 A6.5,6.1 0 0 1 458.5,99.9 A6.8,2.0 0 0 0 445.6,99.9Z" fill="#e9301a"/><ellipse cx="469.0" cy="99.6" rx="9.9" ry="7.2" fill="url(#gC)"/><path d="M462.6,99.9 A6.5,6.1 0 0 1 475.5,99.9 A6.8,2.0 0 0 0 462.6,99.9Z" fill="#e9301a"/><ellipse cx="486.0" cy="99.6" rx="9.9" ry="7.2" fill="url(#gC)"/><path d="M479.6,99.9 A6.5,6.1 0 0 1 492.5,99.9 A6.8,2.0 0 0 0 479.6,99.9Z" fill="#e9301a"/><ellipse cx="503.0" cy="99.6" rx="9.9" ry="7.2" fill="url(#gC)"/><path d="M496.6,99.9 A6.5,6.1 0 0 1 509.5,99.9 A6.8,2.0 0 0 0 496.6,99.9Z" fill="#e9301a"/><ellipse cx="520.0" cy="99.6" rx="9.9" ry="7.2" fill="url(#gC)"/><path d="M513.5,99.9 A6.5,6.1 0 0 1 526.5,99.9 A6.8,2.0 0 0 0 513.5,99.9Z" fill="#e9301a"/><ellipse cx="410.3" cy="107.0" rx="10.9" ry="8.0" fill="url(#gC)"/><path d="M403.2,107.4 A7.1,6.7 0 0 1 417.5,107.4 A7.5,2.2 0 0 0 403.2,107.4Z" fill="#e9301a"/><ellipse cx="429.1" cy="107.0" rx="10.9" ry="8.0" fill="url(#gC)"/><path d="M422.0,107.4 A7.1,6.7 0 0 1 436.3,107.4 A7.5,2.2 0 0 0 422.0,107.4Z" fill="#e9301a"/><ellipse cx="447.9" cy="107.0" rx="10.9" ry="8.0" fill="url(#gC)"/><path d="M440.8,107.4 A7.1,6.7 0 0 1 455.1,107.4 A7.5,2.2 0 0 0 440.8,107.4Z" fill="#e9301a"/><ellipse cx="466.7" cy="107.0" rx="10.9" ry="8.0" fill="url(#gC)"/><path d="M459.6,107.4 A7.1,6.7 0 0 1 473.9,107.4 A7.5,2.2 0 0 0 459.6,107.4Z" fill="#e9301a"/><ellipse cx="485.5" cy="107.0" rx="10.9" ry="8.0" fill="url(#gC)"/><path d="M478.4,107.4 A7.1,6.7 0 0 1 492.7,107.4 A7.5,2.2 0 0 0 478.4,107.4Z" fill="#e9301a"/><ellipse cx="504.3" cy="107.0" rx="10.9" ry="8.0" fill="url(#gC)"/><path d="M497.2,107.4 A7.1,6.7 0 0 1 511.5,107.4 A7.5,2.2 0 0 0 497.2,107.4Z" fill="#e9301a"/><ellipse cx="523.1" cy="107.0" rx="10.9" ry="8.0" fill="url(#gC)"/><path d="M516.0,107.4 A7.1,6.7 0 0 1 530.3,107.4 A7.5,2.2 0 0 0 516.0,107.4Z" fill="#e9301a"/><circle cx="444.7" cy="66.5" r="4.9" fill="url(#gT)"/><circle cx="483.6" cy="67.5" r="5.6" fill="url(#gT)"/><circle cx="454.2" cy="57.3" r="6.3" fill="url(#gT)"/><circle cx="474.2" cy="56.0" r="6.5" fill="url(#gT)"/><circle cx="461.5" cy="58.0" r="7.3" fill="url(#gT)"/><circle cx="452.0" cy="61.0" r="3.3" fill="url(#gR)"/><circle cx="472.2" cy="59.6" r="3.8" fill="url(#gR)"/><circle cx="446.5" cy="48.5" r="3.5" fill="url(#gR)"/><circle cx="450.3" cy="52.5" r="3.1" fill="url(#gG)"/><circle cx="458.4" cy="48.0" r="4.3" fill="url(#gR)"/><circle cx="459.8" cy="53.4" r="3.5" fill="url(#gG)"/><circle cx="478.6" cy="44.2" r="3.6" fill="url(#gR)"/><circle cx="476.7" cy="48.7" r="3.3" fill="url(#gG)"/><circle cx="491.5" cy="57.2" r="3.7" fill="url(#gR)"/><circle cx="487.0" cy="61.3" r="3.3" fill="url(#gG)"/><circle cx="453.0" cy="69.6" r="7.5" fill="url(#gT)"/><circle cx="473.2" cy="69.6" r="7.4" fill="url(#gT)"/><ellipse cx="463.4" cy="72.0" rx="3.3" ry="4.2" fill="url(#gR)"/><circle cx="442.8" cy="71.2" r="3.6" fill="url(#gR)"/><circle cx="483.1" cy="71.0" r="3.6" fill="url(#gR)"/></g>
<rect x="423.0" y="31.9" width="82.60000000000002" height="66.9" fill="none" stroke="#3b7ddd" stroke-width="1.6"/>
<g transform="translate(513.1,20.2) scale(0.94,1)"><text x="0" y="0" fill="#1b7a48"><tspan font-size="12.55">Cu</tspan><tspan dy="4.10" font-size="8.28">8</tspan><tspan dy="-4.10" font-size="12.55">&#8203;</tspan><tspan font-size="12.55">(CO)</tspan><tspan dy="4.10" font-size="8.28">3</tspan><tspan dy="-4.10" font-size="12.55">&#8203;</tspan><tspan font-size="12.55">O</tspan><tspan dy="4.10" font-size="8.28">8</tspan><tspan dy="-4.10" font-size="12.55">&#8203;</tspan><tspan font-size="12.55">-&#945;</tspan></text></g>
<text x="524.31" y="114.9" font-size="12.1" textLength="49.40" lengthAdjust="spacingAndGlyphs" fill="#231f20" >0.071 eV</text>
<clipPath id="cpb2"><rect x="509.6" y="31.9" width="83.0" height="66.9"/></clipPath>
<g clip-path="url(#cpb2)"><rect x="509.6" y="73.2" width="83.0" height="31.799999999999997" fill="#ecd894"/><ellipse cx="506.2" cy="74.1" rx="4.6" ry="3.4" fill="url(#gC)"/><path d="M503.1,74.2 A3.0,2.8 0 0 1 509.2,74.2 A3.2,0.9 0 0 0 503.1,74.2Z" fill="#e9301a"/><ellipse cx="514.2" cy="74.1" rx="4.6" ry="3.4" fill="url(#gC)"/><path d="M511.1,74.2 A3.0,2.8 0 0 1 517.2,74.2 A3.2,0.9 0 0 0 511.1,74.2Z" fill="#e9301a"/><ellipse cx="522.2" cy="74.1" rx="4.6" ry="3.4" fill="url(#gC)"/><path d="M519.1,74.2 A3.0,2.8 0 0 1 525.2,74.2 A3.2,0.9 0 0 0 519.1,74.2Z" fill="#e9301a"/><ellipse cx="530.2" cy="74.1" rx="4.6" ry="3.4" fill="url(#gC)"/><path d="M527.1,74.2 A3.0,2.8 0 0 1 533.2,74.2 A3.2,0.9 0 0 0 527.1,74.2Z" fill="#e9301a"/><ellipse cx="538.2" cy="74.1" rx="4.6" ry="3.4" fill="url(#gC)"/><path d="M535.1,74.2 A3.0,2.8 0 0 1 541.2,74.2 A3.2,0.9 0 0 0 535.1,74.2Z" fill="#e9301a"/><ellipse cx="546.2" cy="74.1" rx="4.6" ry="3.4" fill="url(#gC)"/><path d="M543.1,74.2 A3.0,2.8 0 0 1 549.2,74.2 A3.2,0.9 0 0 0 543.1,74.2Z" fill="#e9301a"/><ellipse cx="554.2" cy="74.1" rx="4.6" ry="3.4" fill="url(#gC)"/><path d="M551.1,74.2 A3.0,2.8 0 0 1 557.2,74.2 A3.2,0.9 0 0 0 551.1,74.2Z" fill="#e9301a"/><ellipse cx="562.2" cy="74.1" rx="4.6" ry="3.4" fill="url(#gC)"/><path d="M559.1,74.2 A3.0,2.8 0 0 1 565.2,74.2 A3.2,0.9 0 0 0 559.1,74.2Z" fill="#e9301a"/><ellipse cx="570.2" cy="74.1" rx="4.6" ry="3.4" fill="url(#gC)"/><path d="M567.1,74.2 A3.0,2.8 0 0 1 573.2,74.2 A3.2,0.9 0 0 0 567.1,74.2Z" fill="#e9301a"/><ellipse cx="578.2" cy="74.1" rx="4.6" ry="3.4" fill="url(#gC)"/><path d="M575.1,74.2 A3.0,2.8 0 0 1 581.2,74.2 A3.2,0.9 0 0 0 575.1,74.2Z" fill="#e9301a"/><ellipse cx="586.2" cy="74.1" rx="4.6" ry="3.4" fill="url(#gC)"/><path d="M583.1,74.2 A3.0,2.8 0 0 1 589.2,74.2 A3.2,0.9 0 0 0 583.1,74.2Z" fill="#e9301a"/><ellipse cx="594.2" cy="74.1" rx="4.6" ry="3.4" fill="url(#gC)"/><path d="M591.1,74.2 A3.0,2.8 0 0 1 597.2,74.2 A3.2,0.9 0 0 0 591.1,74.2Z" fill="#e9301a"/><ellipse cx="507.1" cy="78.9" rx="5.7" ry="4.2" fill="url(#gC)"/><path d="M503.3,79.1 A3.7,3.5 0 0 1 510.8,79.1 A3.9,1.2 0 0 0 503.3,79.1Z" fill="#e9301a"/><ellipse cx="516.9" cy="78.9" rx="5.7" ry="4.2" fill="url(#gC)"/><path d="M513.1,79.1 A3.7,3.5 0 0 1 520.6,79.1 A3.9,1.2 0 0 0 513.1,79.1Z" fill="#e9301a"/><ellipse cx="526.7" cy="78.9" rx="5.7" ry="4.2" fill="url(#gC)"/><path d="M522.9,79.1 A3.7,3.5 0 0 1 530.4,79.1 A3.9,1.2 0 0 0 522.9,79.1Z" fill="#e9301a"/><ellipse cx="536.5" cy="78.9" rx="5.7" ry="4.2" fill="url(#gC)"/><path d="M532.7,79.1 A3.7,3.5 0 0 1 540.2,79.1 A3.9,1.2 0 0 0 532.7,79.1Z" fill="#e9301a"/><ellipse cx="546.3" cy="78.9" rx="5.7" ry="4.2" fill="url(#gC)"/><path d="M542.5,79.1 A3.7,3.5 0 0 1 550.0,79.1 A3.9,1.2 0 0 0 542.5,79.1Z" fill="#e9301a"/><ellipse cx="556.1" cy="78.9" rx="5.7" ry="4.2" fill="url(#gC)"/><path d="M552.3,79.1 A3.7,3.5 0 0 1 559.8,79.1 A3.9,1.2 0 0 0 552.3,79.1Z" fill="#e9301a"/><ellipse cx="565.9" cy="78.9" rx="5.7" ry="4.2" fill="url(#gC)"/><path d="M562.1,79.1 A3.7,3.5 0 0 1 569.6,79.1 A3.9,1.2 0 0 0 562.1,79.1Z" fill="#e9301a"/><ellipse cx="575.7" cy="78.9" rx="5.7" ry="4.2" fill="url(#gC)"/><path d="M571.9,79.1 A3.7,3.5 0 0 1 579.4,79.1 A3.9,1.2 0 0 0 571.9,79.1Z" fill="#e9301a"/><ellipse cx="585.5" cy="78.9" rx="5.7" ry="4.2" fill="url(#gC)"/><path d="M581.7,79.1 A3.7,3.5 0 0 1 589.2,79.1 A3.9,1.2 0 0 0 581.7,79.1Z" fill="#e9301a"/><ellipse cx="595.3" cy="78.9" rx="5.7" ry="4.2" fill="url(#gC)"/><path d="M591.5,79.1 A3.7,3.5 0 0 1 599.0,79.1 A3.9,1.2 0 0 0 591.5,79.1Z" fill="#e9301a"/><ellipse cx="501.0" cy="84.2" rx="6.7" ry="4.9" fill="url(#gC)"/><path d="M496.5,84.4 A4.4,4.1 0 0 1 505.4,84.4 A4.6,1.4 0 0 0 496.5,84.4Z" fill="#e9301a"/><ellipse cx="512.6" cy="84.2" rx="6.7" ry="4.9" fill="url(#gC)"/><path d="M508.1,84.4 A4.4,4.1 0 0 1 517.0,84.4 A4.6,1.4 0 0 0 508.1,84.4Z" fill="#e9301a"/><ellipse cx="524.2" cy="84.2" rx="6.7" ry="4.9" fill="url(#gC)"/><path d="M519.7,84.4 A4.4,4.1 0 0 1 528.6,84.4 A4.6,1.4 0 0 0 519.7,84.4Z" fill="#e9301a"/><ellipse cx="535.8" cy="84.2" rx="6.7" ry="4.9" fill="url(#gC)"/><path d="M531.3,84.4 A4.4,4.1 0 0 1 540.2,84.4 A4.6,1.4 0 0 0 531.3,84.4Z" fill="#e9301a"/><ellipse cx="547.4" cy="84.2" rx="6.7" ry="4.9" fill="url(#gC)"/><path d="M542.9,84.4 A4.4,4.1 0 0 1 551.8,84.4 A4.6,1.4 0 0 0 542.9,84.4Z" fill="#e9301a"/><ellipse cx="559.0" cy="84.2" rx="6.7" ry="4.9" fill="url(#gC)"/><path d="M554.5,84.4 A4.4,4.1 0 0 1 563.4,84.4 A4.6,1.4 0 0 0 554.5,84.4Z" fill="#e9301a"/><ellipse cx="570.6" cy="84.2" rx="6.7" ry="4.9" fill="url(#gC)"/><path d="M566.1,84.4 A4.4,4.1 0 0 1 575.0,84.4 A4.6,1.4 0 0 0 566.1,84.4Z" fill="#e9301a"/><ellipse cx="582.2" cy="84.2" rx="6.7" ry="4.9" fill="url(#gC)"/><path d="M577.7,84.4 A4.4,4.1 0 0 1 586.6,84.4 A4.6,1.4 0 0 0 577.7,84.4Z" fill="#e9301a"/><ellipse cx="593.8" cy="84.2" rx="6.7" ry="4.9" fill="url(#gC)"/><path d="M589.3,84.4 A4.4,4.1 0 0 1 598.2,84.4 A4.6,1.4 0 0 0 589.3,84.4Z" fill="#e9301a"/><ellipse cx="503.9" cy="90.0" rx="7.8" ry="5.7" fill="url(#gC)"/><path d="M498.8,90.3 A5.1,4.8 0 0 1 508.9,90.3 A5.3,1.6 0 0 0 498.8,90.3Z" fill="#e9301a"/><ellipse cx="517.3" cy="90.0" rx="7.8" ry="5.7" fill="url(#gC)"/><path d="M512.2,90.3 A5.1,4.8 0 0 1 522.3,90.3 A5.3,1.6 0 0 0 512.2,90.3Z" fill="#e9301a"/><ellipse cx="530.7" cy="90.0" rx="7.8" ry="5.7" fill="url(#gC)"/><path d="M525.6,90.3 A5.1,4.8 0 0 1 535.7,90.3 A5.3,1.6 0 0 0 525.6,90.3Z" fill="#e9301a"/><ellipse cx="544.1" cy="90.0" rx="7.8" ry="5.7" fill="url(#gC)"/><path d="M539.0,90.3 A5.1,4.8 0 0 1 549.1,90.3 A5.3,1.6 0 0 0 539.0,90.3Z" fill="#e9301a"/><ellipse cx="557.5" cy="90.0" rx="7.8" ry="5.7" fill="url(#gC)"/><path d="M552.4,90.3 A5.1,4.8 0 0 1 562.5,90.3 A5.3,1.6 0 0 0 552.4,90.3Z" fill="#e9301a"/><ellipse cx="570.9" cy="90.0" rx="7.8" ry="5.7" fill="url(#gC)"/><path d="M565.8,90.3 A5.1,4.8 0 0 1 575.9,90.3 A5.3,1.6 0 0 0 565.8,90.3Z" fill="#e9301a"/><ellipse cx="584.3" cy="90.0" rx="7.8" ry="5.7" fill="url(#gC)"/><path d="M579.2,90.3 A5.1,4.8 0 0 1 589.3,90.3 A5.3,1.6 0 0 0 579.2,90.3Z" fill="#e9301a"/><ellipse cx="597.7" cy="90.0" rx="7.8" ry="5.7" fill="url(#gC)"/><path d="M592.6,90.3 A5.1,4.8 0 0 1 602.7,90.3 A5.3,1.6 0 0 0 592.6,90.3Z" fill="#e9301a"/><ellipse cx="500.6" cy="96.3" rx="8.8" ry="6.4" fill="url(#gC)"/><path d="M494.8,96.7 A5.8,5.4 0 0 1 506.3,96.7 A6.1,1.8 0 0 0 494.8,96.7Z" fill="#e9301a"/><ellipse cx="515.8" cy="96.3" rx="8.8" ry="6.4" fill="url(#gC)"/><path d="M510.0,96.7 A5.8,5.4 0 0 1 521.5,96.7 A6.1,1.8 0 0 0 510.0,96.7Z" fill="#e9301a"/><ellipse cx="531.0" cy="96.3" rx="8.8" ry="6.4" fill="url(#gC)"/><path d="M525.2,96.7 A5.8,5.4 0 0 1 536.7,96.7 A6.1,1.8 0 0 0 525.2,96.7Z" fill="#e9301a"/><ellipse cx="546.2" cy="96.3" rx="8.8" ry="6.4" fill="url(#gC)"/><path d="M540.4,96.7 A5.8,5.4 0 0 1 551.9,96.7 A6.1,1.8 0 0 0 540.4,96.7Z" fill="#e9301a"/><ellipse cx="561.4" cy="96.3" rx="8.8" ry="6.4" fill="url(#gC)"/><path d="M555.6,96.7 A5.8,5.4 0 0 1 567.1,96.7 A6.1,1.8 0 0 0 555.6,96.7Z" fill="#e9301a"/><ellipse cx="576.6" cy="96.3" rx="8.8" ry="6.4" fill="url(#gC)"/><path d="M570.8,96.7 A5.8,5.4 0 0 1 582.3,96.7 A6.1,1.8 0 0 0 570.8,96.7Z" fill="#e9301a"/><ellipse cx="591.8" cy="96.3" rx="8.8" ry="6.4" fill="url(#gC)"/><path d="M586.0,96.7 A5.8,5.4 0 0 1 597.5,96.7 A6.1,1.8 0 0 0 586.0,96.7Z" fill="#e9301a"/><ellipse cx="607.0" cy="96.3" rx="8.8" ry="6.4" fill="url(#gC)"/><path d="M601.2,96.7 A5.8,5.4 0 0 1 612.7,96.7 A6.1,1.8 0 0 0 601.2,96.7Z" fill="#e9301a"/><ellipse cx="502.7" cy="103.2" rx="9.9" ry="7.2" fill="url(#gC)"/><path d="M496.2,103.5 A6.5,6.1 0 0 1 509.1,103.5 A6.8,2.0 0 0 0 496.2,103.5Z" fill="#e9301a"/><ellipse cx="519.7" cy="103.2" rx="9.9" ry="7.2" fill="url(#gC)"/><path d="M513.2,103.5 A6.5,6.1 0 0 1 526.1,103.5 A6.8,2.0 0 0 0 513.2,103.5Z" fill="#e9301a"/><ellipse cx="536.7" cy="103.2" rx="9.9" ry="7.2" fill="url(#gC)"/><path d="M530.2,103.5 A6.5,6.1 0 0 1 543.1,103.5 A6.8,2.0 0 0 0 530.2,103.5Z" fill="#e9301a"/><ellipse cx="553.7" cy="103.2" rx="9.9" ry="7.2" fill="url(#gC)"/><path d="M547.2,103.5 A6.5,6.1 0 0 1 560.1,103.5 A6.8,2.0 0 0 0 547.2,103.5Z" fill="#e9301a"/><ellipse cx="570.7" cy="103.2" rx="9.9" ry="7.2" fill="url(#gC)"/><path d="M564.2,103.5 A6.5,6.1 0 0 1 577.1,103.5 A6.8,2.0 0 0 0 564.2,103.5Z" fill="#e9301a"/><ellipse cx="587.7" cy="103.2" rx="9.9" ry="7.2" fill="url(#gC)"/><path d="M581.2,103.5 A6.5,6.1 0 0 1 594.1,103.5 A6.8,2.0 0 0 0 581.2,103.5Z" fill="#e9301a"/><ellipse cx="604.7" cy="103.2" rx="9.9" ry="7.2" fill="url(#gC)"/><path d="M598.2,103.5 A6.5,6.1 0 0 1 611.1,103.5 A6.8,2.0 0 0 0 598.2,103.5Z" fill="#e9301a"/><ellipse cx="491.4" cy="110.6" rx="10.9" ry="8.0" fill="url(#gC)"/><path d="M484.2,111.0 A7.1,6.7 0 0 1 498.5,111.0 A7.5,2.2 0 0 0 484.2,111.0Z" fill="#e9301a"/><ellipse cx="510.2" cy="110.6" rx="10.9" ry="8.0" fill="url(#gC)"/><path d="M503.0,111.0 A7.1,6.7 0 0 1 517.3,111.0 A7.5,2.2 0 0 0 503.0,111.0Z" fill="#e9301a"/><ellipse cx="529.0" cy="110.6" rx="10.9" ry="8.0" fill="url(#gC)"/><path d="M521.8,111.0 A7.1,6.7 0 0 1 536.1,111.0 A7.5,2.2 0 0 0 521.8,111.0Z" fill="#e9301a"/><ellipse cx="547.8" cy="110.6" rx="10.9" ry="8.0" fill="url(#gC)"/><path d="M540.6,111.0 A7.1,6.7 0 0 1 554.9,111.0 A7.5,2.2 0 0 0 540.6,111.0Z" fill="#e9301a"/><ellipse cx="566.6" cy="110.6" rx="10.9" ry="8.0" fill="url(#gC)"/><path d="M559.4,111.0 A7.1,6.7 0 0 1 573.7,111.0 A7.5,2.2 0 0 0 559.4,111.0Z" fill="#e9301a"/><ellipse cx="585.4" cy="110.6" rx="10.9" ry="8.0" fill="url(#gC)"/><path d="M578.2,111.0 A7.1,6.7 0 0 1 592.5,111.0 A7.5,2.2 0 0 0 578.2,111.0Z" fill="#e9301a"/><ellipse cx="604.2" cy="110.6" rx="10.9" ry="8.0" fill="url(#gC)"/><path d="M597.0,111.0 A7.1,6.7 0 0 1 611.3,111.0 A7.5,2.2 0 0 0 597.0,111.0Z" fill="#e9301a"/><circle cx="531.7" cy="69.8" r="4.6" fill="url(#gT)"/><circle cx="574.2" cy="69.6" r="4.6" fill="url(#gT)"/><circle cx="541.2" cy="59.4" r="6.9" fill="url(#gT)"/><circle cx="563.6" cy="56.8" r="6.8" fill="url(#gT)"/><circle cx="552.9" cy="60.5" r="8.1" fill="url(#gT)"/><circle cx="541.0" cy="63.0" r="3.8" fill="url(#gR)"/><circle cx="564.8" cy="63.0" r="3.8" fill="url(#gR)"/><circle cx="529.1" cy="52.2" r="4.0" fill="url(#gR)"/><circle cx="534.1" cy="55.1" r="3.7" fill="url(#gG)"/><circle cx="551.2" cy="48.4" r="4.6" fill="url(#gR)"/><circle cx="551.9" cy="54.6" r="3.7" fill="url(#gG)"/><circle cx="576.0" cy="48.0" r="4.2" fill="url(#gR)"/><circle cx="570.3" cy="51.8" r="3.7" fill="url(#gG)"/><circle cx="541.7" cy="72.7" r="8.3" fill="url(#gT)"/><circle cx="565.0" cy="72.7" r="8.3" fill="url(#gT)"/><ellipse cx="553.1" cy="73.9" rx="3.2" ry="4.5" fill="url(#gR)"/><circle cx="530.1" cy="74.6" r="4.0" fill="url(#gR)"/><circle cx="576.2" cy="74.6" r="4.0" fill="url(#gR)"/></g>
<rect x="509.6" y="31.9" width="83.0" height="66.9" fill="none" stroke="#3aa85a" stroke-width="1.6"/>
<g transform="translate(601.1,20.2) scale(0.94,1)"><text x="0" y="0" fill="#555555"><tspan font-size="12.55">Cu</tspan><tspan dy="4.10" font-size="8.28">8</tspan><tspan dy="-4.10" font-size="12.55">&#8203;</tspan><tspan font-size="12.55">(CO)</tspan><tspan dy="4.10" font-size="8.28">4</tspan><tspan dy="-4.10" font-size="12.55">&#8203;</tspan><tspan font-size="12.55">O</tspan><tspan dy="4.10" font-size="8.28">8</tspan><tspan dy="-4.10" font-size="12.55">&#8203;</tspan><tspan font-size="12.55">-&#946;</tspan></text></g>
<text x="610.41" y="114.9" font-size="12.1" textLength="49.40" lengthAdjust="spacingAndGlyphs" fill="#231f20" >0.074 eV</text>
<clipPath id="cpb3"><rect x="596.4" y="31.9" width="83.0" height="66.9"/></clipPath>
<g clip-path="url(#cpb3)"><rect x="596.4" y="74.8" width="83.0" height="30.200000000000003" fill="#ecd894"/><ellipse cx="593.1" cy="75.7" rx="4.6" ry="3.4" fill="url(#gC)"/><path d="M590.0,75.8 A3.0,2.8 0 0 1 596.1,75.8 A3.2,0.9 0 0 0 590.0,75.8Z" fill="#e9301a"/><ellipse cx="601.1" cy="75.7" rx="4.6" ry="3.4" fill="url(#gC)"/><path d="M598.0,75.8 A3.0,2.8 0 0 1 604.1,75.8 A3.2,0.9 0 0 0 598.0,75.8Z" fill="#e9301a"/><ellipse cx="609.1" cy="75.7" rx="4.6" ry="3.4" fill="url(#gC)"/><path d="M606.0,75.8 A3.0,2.8 0 0 1 612.1,75.8 A3.2,0.9 0 0 0 606.0,75.8Z" fill="#e9301a"/><ellipse cx="617.1" cy="75.7" rx="4.6" ry="3.4" fill="url(#gC)"/><path d="M614.0,75.8 A3.0,2.8 0 0 1 620.1,75.8 A3.2,0.9 0 0 0 614.0,75.8Z" fill="#e9301a"/><ellipse cx="625.1" cy="75.7" rx="4.6" ry="3.4" fill="url(#gC)"/><path d="M622.0,75.8 A3.0,2.8 0 0 1 628.1,75.8 A3.2,0.9 0 0 0 622.0,75.8Z" fill="#e9301a"/><ellipse cx="633.1" cy="75.7" rx="4.6" ry="3.4" fill="url(#gC)"/><path d="M630.0,75.8 A3.0,2.8 0 0 1 636.1,75.8 A3.2,0.9 0 0 0 630.0,75.8Z" fill="#e9301a"/><ellipse cx="641.1" cy="75.7" rx="4.6" ry="3.4" fill="url(#gC)"/><path d="M638.0,75.8 A3.0,2.8 0 0 1 644.1,75.8 A3.2,0.9 0 0 0 638.0,75.8Z" fill="#e9301a"/><ellipse cx="649.1" cy="75.7" rx="4.6" ry="3.4" fill="url(#gC)"/><path d="M646.0,75.8 A3.0,2.8 0 0 1 652.1,75.8 A3.2,0.9 0 0 0 646.0,75.8Z" fill="#e9301a"/><ellipse cx="657.1" cy="75.7" rx="4.6" ry="3.4" fill="url(#gC)"/><path d="M654.0,75.8 A3.0,2.8 0 0 1 660.1,75.8 A3.2,0.9 0 0 0 654.0,75.8Z" fill="#e9301a"/><ellipse cx="665.1" cy="75.7" rx="4.6" ry="3.4" fill="url(#gC)"/><path d="M662.0,75.8 A3.0,2.8 0 0 1 668.1,75.8 A3.2,0.9 0 0 0 662.0,75.8Z" fill="#e9301a"/><ellipse cx="673.1" cy="75.7" rx="4.6" ry="3.4" fill="url(#gC)"/><path d="M670.0,75.8 A3.0,2.8 0 0 1 676.1,75.8 A3.2,0.9 0 0 0 670.0,75.8Z" fill="#e9301a"/><ellipse cx="681.1" cy="75.7" rx="4.6" ry="3.4" fill="url(#gC)"/><path d="M678.0,75.8 A3.0,2.8 0 0 1 684.1,75.8 A3.2,0.9 0 0 0 678.0,75.8Z" fill="#e9301a"/><ellipse cx="596.6" cy="80.5" rx="5.7" ry="4.2" fill="url(#gC)"/><path d="M592.8,80.7 A3.7,3.5 0 0 1 600.3,80.7 A3.9,1.2 0 0 0 592.8,80.7Z" fill="#e9301a"/><ellipse cx="606.4" cy="80.5" rx="5.7" ry="4.2" fill="url(#gC)"/><path d="M602.6,80.7 A3.7,3.5 0 0 1 610.1,80.7 A3.9,1.2 0 0 0 602.6,80.7Z" fill="#e9301a"/><ellipse cx="616.2" cy="80.5" rx="5.7" ry="4.2" fill="url(#gC)"/><path d="M612.4,80.7 A3.7,3.5 0 0 1 619.9,80.7 A3.9,1.2 0 0 0 612.4,80.7Z" fill="#e9301a"/><ellipse cx="626.0" cy="80.5" rx="5.7" ry="4.2" fill="url(#gC)"/><path d="M622.2,80.7 A3.7,3.5 0 0 1 629.7,80.7 A3.9,1.2 0 0 0 622.2,80.7Z" fill="#e9301a"/><ellipse cx="635.8" cy="80.5" rx="5.7" ry="4.2" fill="url(#gC)"/><path d="M632.0,80.7 A3.7,3.5 0 0 1 639.5,80.7 A3.9,1.2 0 0 0 632.0,80.7Z" fill="#e9301a"/><ellipse cx="645.6" cy="80.5" rx="5.7" ry="4.2" fill="url(#gC)"/><path d="M641.8,80.7 A3.7,3.5 0 0 1 649.3,80.7 A3.9,1.2 0 0 0 641.8,80.7Z" fill="#e9301a"/><ellipse cx="655.4" cy="80.5" rx="5.7" ry="4.2" fill="url(#gC)"/><path d="M651.6,80.7 A3.7,3.5 0 0 1 659.1,80.7 A3.9,1.2 0 0 0 651.6,80.7Z" fill="#e9301a"/><ellipse cx="665.2" cy="80.5" rx="5.7" ry="4.2" fill="url(#gC)"/><path d="M661.4,80.7 A3.7,3.5 0 0 1 668.9,80.7 A3.9,1.2 0 0 0 661.4,80.7Z" fill="#e9301a"/><ellipse cx="675.0" cy="80.5" rx="5.7" ry="4.2" fill="url(#gC)"/><path d="M671.2,80.7 A3.7,3.5 0 0 1 678.7,80.7 A3.9,1.2 0 0 0 671.2,80.7Z" fill="#e9301a"/><ellipse cx="684.8" cy="80.5" rx="5.7" ry="4.2" fill="url(#gC)"/><path d="M681.0,80.7 A3.7,3.5 0 0 1 688.5,80.7 A3.9,1.2 0 0 0 681.0,80.7Z" fill="#e9301a"/><ellipse cx="585.1" cy="85.8" rx="6.7" ry="4.9" fill="url(#gC)"/><path d="M580.7,86.0 A4.4,4.1 0 0 1 589.5,86.0 A4.6,1.4 0 0 0 580.7,86.0Z" fill="#e9301a"/><ellipse cx="596.7" cy="85.8" rx="6.7" ry="4.9" fill="url(#gC)"/><path d="M592.3,86.0 A4.4,4.1 0 0 1 601.1,86.0 A4.6,1.4 0 0 0 592.3,86.0Z" fill="#e9301a"/><ellipse cx="608.3" cy="85.8" rx="6.7" ry="4.9" fill="url(#gC)"/><path d="M603.9,86.0 A4.4,4.1 0 0 1 612.7,86.0 A4.6,1.4 0 0 0 603.9,86.0Z" fill="#e9301a"/><ellipse cx="619.9" cy="85.8" rx="6.7" ry="4.9" fill="url(#gC)"/><path d="M615.5,86.0 A4.4,4.1 0 0 1 624.3,86.0 A4.6,1.4 0 0 0 615.5,86.0Z" fill="#e9301a"/><ellipse cx="631.5" cy="85.8" rx="6.7" ry="4.9" fill="url(#gC)"/><path d="M627.1,86.0 A4.4,4.1 0 0 1 635.9,86.0 A4.6,1.4 0 0 0 627.1,86.0Z" fill="#e9301a"/><ellipse cx="643.1" cy="85.8" rx="6.7" ry="4.9" fill="url(#gC)"/><path d="M638.7,86.0 A4.4,4.1 0 0 1 647.5,86.0 A4.6,1.4 0 0 0 638.7,86.0Z" fill="#e9301a"/><ellipse cx="654.7" cy="85.8" rx="6.7" ry="4.9" fill="url(#gC)"/><path d="M650.3,86.0 A4.4,4.1 0 0 1 659.1,86.0 A4.6,1.4 0 0 0 650.3,86.0Z" fill="#e9301a"/><ellipse cx="666.3" cy="85.8" rx="6.7" ry="4.9" fill="url(#gC)"/><path d="M661.9,86.0 A4.4,4.1 0 0 1 670.7,86.0 A4.6,1.4 0 0 0 661.9,86.0Z" fill="#e9301a"/><ellipse cx="677.9" cy="85.8" rx="6.7" ry="4.9" fill="url(#gC)"/><path d="M673.5,86.0 A4.4,4.1 0 0 1 682.3,86.0 A4.6,1.4 0 0 0 673.5,86.0Z" fill="#e9301a"/><ellipse cx="689.5" cy="85.8" rx="6.7" ry="4.9" fill="url(#gC)"/><path d="M685.1,86.0 A4.4,4.1 0 0 1 693.9,86.0 A4.6,1.4 0 0 0 685.1,86.0Z" fill="#e9301a"/><ellipse cx="596.0" cy="91.6" rx="7.8" ry="5.7" fill="url(#gC)"/><path d="M590.9,91.9 A5.1,4.8 0 0 1 601.1,91.9 A5.3,1.6 0 0 0 590.9,91.9Z" fill="#e9301a"/><ellipse cx="609.4" cy="91.6" rx="7.8" ry="5.7" fill="url(#gC)"/><path d="M604.3,91.9 A5.1,4.8 0 0 1 614.5,91.9 A5.3,1.6 0 0 0 604.3,91.9Z" fill="#e9301a"/><ellipse cx="622.8" cy="91.6" rx="7.8" ry="5.7" fill="url(#gC)"/><path d="M617.7,91.9 A5.1,4.8 0 0 1 627.9,91.9 A5.3,1.6 0 0 0 617.7,91.9Z" fill="#e9301a"/><ellipse cx="636.2" cy="91.6" rx="7.8" ry="5.7" fill="url(#gC)"/><path d="M631.1,91.9 A5.1,4.8 0 0 1 641.3,91.9 A5.3,1.6 0 0 0 631.1,91.9Z" fill="#e9301a"/><ellipse cx="649.6" cy="91.6" rx="7.8" ry="5.7" fill="url(#gC)"/><path d="M644.5,91.9 A5.1,4.8 0 0 1 654.7,91.9 A5.3,1.6 0 0 0 644.5,91.9Z" fill="#e9301a"/><ellipse cx="663.0" cy="91.6" rx="7.8" ry="5.7" fill="url(#gC)"/><path d="M657.9,91.9 A5.1,4.8 0 0 1 668.1,91.9 A5.3,1.6 0 0 0 657.9,91.9Z" fill="#e9301a"/><ellipse cx="676.4" cy="91.6" rx="7.8" ry="5.7" fill="url(#gC)"/><path d="M671.3,91.9 A5.1,4.8 0 0 1 681.5,91.9 A5.3,1.6 0 0 0 671.3,91.9Z" fill="#e9301a"/><ellipse cx="689.8" cy="91.6" rx="7.8" ry="5.7" fill="url(#gC)"/><path d="M684.7,91.9 A5.1,4.8 0 0 1 694.9,91.9 A5.3,1.6 0 0 0 684.7,91.9Z" fill="#e9301a"/><ellipse cx="589.1" cy="97.9" rx="8.8" ry="6.4" fill="url(#gC)"/><path d="M583.3,98.3 A5.8,5.4 0 0 1 594.8,98.3 A6.1,1.8 0 0 0 583.3,98.3Z" fill="#e9301a"/><ellipse cx="604.3" cy="97.9" rx="8.8" ry="6.4" fill="url(#gC)"/><path d="M598.5,98.3 A5.8,5.4 0 0 1 610.0,98.3 A6.1,1.8 0 0 0 598.5,98.3Z" fill="#e9301a"/><ellipse cx="619.5" cy="97.9" rx="8.8" ry="6.4" fill="url(#gC)"/><path d="M613.7,98.3 A5.8,5.4 0 0 1 625.2,98.3 A6.1,1.8 0 0 0 613.7,98.3Z" fill="#e9301a"/><ellipse cx="634.7" cy="97.9" rx="8.8" ry="6.4" fill="url(#gC)"/><path d="M628.9,98.3 A5.8,5.4 0 0 1 640.4,98.3 A6.1,1.8 0 0 0 628.9,98.3Z" fill="#e9301a"/><ellipse cx="649.9" cy="97.9" rx="8.8" ry="6.4" fill="url(#gC)"/><path d="M644.1,98.3 A5.8,5.4 0 0 1 655.6,98.3 A6.1,1.8 0 0 0 644.1,98.3Z" fill="#e9301a"/><ellipse cx="665.1" cy="97.9" rx="8.8" ry="6.4" fill="url(#gC)"/><path d="M659.3,98.3 A5.8,5.4 0 0 1 670.8,98.3 A6.1,1.8 0 0 0 659.3,98.3Z" fill="#e9301a"/><ellipse cx="680.3" cy="97.9" rx="8.8" ry="6.4" fill="url(#gC)"/><path d="M674.5,98.3 A5.8,5.4 0 0 1 686.0,98.3 A6.1,1.8 0 0 0 674.5,98.3Z" fill="#e9301a"/><ellipse cx="604.6" cy="104.8" rx="9.9" ry="7.2" fill="url(#gC)"/><path d="M598.1,105.1 A6.5,6.1 0 0 1 611.0,105.1 A6.8,2.0 0 0 0 598.1,105.1Z" fill="#e9301a"/><ellipse cx="621.6" cy="104.8" rx="9.9" ry="7.2" fill="url(#gC)"/><path d="M615.1,105.1 A6.5,6.1 0 0 1 628.0,105.1 A6.8,2.0 0 0 0 615.1,105.1Z" fill="#e9301a"/><ellipse cx="638.6" cy="104.8" rx="9.9" ry="7.2" fill="url(#gC)"/><path d="M632.1,105.1 A6.5,6.1 0 0 1 645.0,105.1 A6.8,2.0 0 0 0 632.1,105.1Z" fill="#e9301a"/><ellipse cx="655.6" cy="104.8" rx="9.9" ry="7.2" fill="url(#gC)"/><path d="M649.1,105.1 A6.5,6.1 0 0 1 662.0,105.1 A6.8,2.0 0 0 0 649.1,105.1Z" fill="#e9301a"/><ellipse cx="672.6" cy="104.8" rx="9.9" ry="7.2" fill="url(#gC)"/><path d="M666.1,105.1 A6.5,6.1 0 0 1 679.0,105.1 A6.8,2.0 0 0 0 666.1,105.1Z" fill="#e9301a"/><ellipse cx="689.6" cy="104.8" rx="9.9" ry="7.2" fill="url(#gC)"/><path d="M683.1,105.1 A6.5,6.1 0 0 1 696.0,105.1 A6.8,2.0 0 0 0 683.1,105.1Z" fill="#e9301a"/><ellipse cx="591.5" cy="112.2" rx="10.9" ry="8.0" fill="url(#gC)"/><path d="M584.3,112.6 A7.1,6.7 0 0 1 598.6,112.6 A7.5,2.2 0 0 0 584.3,112.6Z" fill="#e9301a"/><ellipse cx="610.3" cy="112.2" rx="10.9" ry="8.0" fill="url(#gC)"/><path d="M603.1,112.6 A7.1,6.7 0 0 1 617.4,112.6 A7.5,2.2 0 0 0 603.1,112.6Z" fill="#e9301a"/><ellipse cx="629.1" cy="112.2" rx="10.9" ry="8.0" fill="url(#gC)"/><path d="M621.9,112.6 A7.1,6.7 0 0 1 636.2,112.6 A7.5,2.2 0 0 0 621.9,112.6Z" fill="#e9301a"/><ellipse cx="647.9" cy="112.2" rx="10.9" ry="8.0" fill="url(#gC)"/><path d="M640.7,112.6 A7.1,6.7 0 0 1 655.0,112.6 A7.5,2.2 0 0 0 640.7,112.6Z" fill="#e9301a"/><ellipse cx="666.7" cy="112.2" rx="10.9" ry="8.0" fill="url(#gC)"/><path d="M659.5,112.6 A7.1,6.7 0 0 1 673.8,112.6 A7.5,2.2 0 0 0 659.5,112.6Z" fill="#e9301a"/><ellipse cx="685.5" cy="112.2" rx="10.9" ry="8.0" fill="url(#gC)"/><path d="M678.3,112.6 A7.1,6.7 0 0 1 692.6,112.6 A7.5,2.2 0 0 0 678.3,112.6Z" fill="#e9301a"/><circle cx="654.2" cy="72.0" r="5.8" fill="url(#gT)"/><circle cx="625.3" cy="61.8" r="6.1" fill="url(#gT)"/><circle cx="644.2" cy="61.0" r="7.4" fill="url(#gT)"/><circle cx="633.3" cy="66.5" r="6.4" fill="url(#gT)"/><circle cx="643.5" cy="65.3" r="3.8" fill="url(#gR)"/><circle cx="613.6" cy="53.9" r="4.0" fill="url(#gR)"/><circle cx="617.9" cy="56.8" r="3.2" fill="url(#gG)"/><circle cx="650.5" cy="48.0" r="3.8" fill="url(#gR)"/><circle cx="648.3" cy="53.5" r="3.6" fill="url(#gG)"/><circle cx="660.6" cy="63.0" r="3.5" fill="url(#gR)"/><circle cx="657.6" cy="66.3" r="3.2" fill="url(#gG)"/><circle cx="621.7" cy="74.1" r="8.0" fill="url(#gT)"/><circle cx="645.4" cy="74.6" r="7.3" fill="url(#gT)"/><circle cx="618.6" cy="63.4" r="4.5" fill="url(#gR)"/><circle cx="620.5" cy="69.1" r="3.8" fill="url(#gG)"/><circle cx="634.2" cy="75.1" r="3.8" fill="url(#gR)"/><circle cx="612.6" cy="76.7" r="3.5" fill="url(#gR)"/><circle cx="655.4" cy="76.0" r="3.4" fill="url(#gR)"/></g>
<rect x="596.4" y="31.9" width="83.0" height="66.9" fill="none" stroke="#8a8a8a" stroke-width="1.6"/>
<line x1="359.6" y1="157.2" x2="359.6" y2="184.5" stroke="#e8474a" stroke-width="1.1"/>
<line x1="360.4" y1="157.2" x2="360.4" y2="184.5" stroke="#e8474a" stroke-width="1.1"/>
<line x1="361.6" y1="157.2" x2="361.6" y2="184.5" stroke="#b36fe0" stroke-width="1.1"/>
<line x1="390.4" y1="157.2" x2="390.4" y2="184.5" stroke="#3aaa5a" stroke-width="1.1"/>
<line x1="395.5" y1="157.2" x2="395.5" y2="184.5" stroke="#b36fe0" stroke-width="1.1"/>
<line x1="420.1" y1="157.2" x2="420.1" y2="184.5" stroke="#2f7de1" stroke-width="1.1"/>
<line x1="435.6" y1="157.2" x2="435.6" y2="184.5" stroke="#e0a021" stroke-width="1.1"/>
<line x1="452.3" y1="157.2" x2="452.3" y2="184.5" stroke="#e0a021" stroke-width="1.1"/>
<line x1="473.1" y1="157.2" x2="473.1" y2="184.5" stroke="#e8474a" stroke-width="1.1"/>
<line x1="479.5" y1="157.2" x2="479.5" y2="184.5" stroke="#3aaa5a" stroke-width="1.1"/>
<line x1="486.7" y1="157.2" x2="486.7" y2="184.5" stroke="#e8474a" stroke-width="1.1"/>
<line x1="498.1" y1="157.2" x2="498.1" y2="184.5" stroke="#3aaa5a" stroke-width="1.1"/>
<line x1="518.5" y1="157.2" x2="518.5" y2="184.5" stroke="#3aaa5a" stroke-width="1.1"/>
<line x1="539.7" y1="157.2" x2="539.7" y2="184.5" stroke="#a070d8" stroke-width="1.1"/>
<line x1="541.3" y1="157.2" x2="541.3" y2="184.5" stroke="#666" stroke-width="1.1"/>
<line x1="559.4" y1="157.2" x2="559.4" y2="184.5" stroke="#3aaa5a" stroke-width="1.1"/>
<line x1="560.6" y1="157.2" x2="560.6" y2="184.5" stroke="#e8474a" stroke-width="1.1"/>
<line x1="563.3" y1="157.2" x2="563.3" y2="184.5" stroke="#3aaa5a" stroke-width="1.1"/>
<line x1="569.6" y1="157.2" x2="569.6" y2="184.5" stroke="#e0a021" stroke-width="1.1"/>
<line x1="570.3" y1="157.2" x2="570.3" y2="184.5" stroke="#e0a021" stroke-width="1.1"/>
<line x1="571.7" y1="157.2" x2="571.7" y2="184.5" stroke="#e8474a" stroke-width="1.1"/>
<line x1="572.5" y1="157.2" x2="572.5" y2="184.5" stroke="#e8474a" stroke-width="1.1"/>
<line x1="573.7" y1="157.2" x2="573.7" y2="184.5" stroke="#2f7de1" stroke-width="1.1"/>
<line x1="575.3" y1="157.2" x2="575.3" y2="184.5" stroke="#666" stroke-width="1.1"/>
<line x1="576.6" y1="157.2" x2="576.6" y2="184.5" stroke="#5a8fe0" stroke-width="1.1"/>
<line x1="577.3" y1="157.2" x2="577.3" y2="184.5" stroke="#5a8fe0" stroke-width="1.1"/>
<line x1="579.5" y1="157.2" x2="579.5" y2="184.5" stroke="#e8474a" stroke-width="1.1"/>
<line x1="584.7" y1="157.2" x2="584.7" y2="184.5" stroke="#e8474a" stroke-width="1.1"/>
<line x1="585.3" y1="157.2" x2="585.3" y2="184.5" stroke="#e8474a" stroke-width="1.1"/>
<line x1="587.5" y1="157.2" x2="587.5" y2="184.5" stroke="#e8474a" stroke-width="1.1"/>
<line x1="589.9" y1="157.2" x2="589.9" y2="184.5" stroke="#2f7de1" stroke-width="1.1"/>
<line x1="590.4" y1="157.2" x2="590.4" y2="184.5" stroke="#5a8fe0" stroke-width="1.1"/>
<line x1="595.7" y1="157.2" x2="595.7" y2="184.5" stroke="#e8474a" stroke-width="1.1"/>
<line x1="600.1" y1="157.2" x2="600.1" y2="184.5" stroke="#3aaa5a" stroke-width="1.1"/>
<line x1="602.1" y1="157.2" x2="602.1" y2="184.5" stroke="#e8474a" stroke-width="1.1"/>
<line x1="603.4" y1="157.2" x2="603.4" y2="184.5" stroke="#e8474a" stroke-width="1.1"/>
<line x1="605.9" y1="157.2" x2="605.9" y2="184.5" stroke="#2f7de1" stroke-width="1.1"/>
<line x1="606.6" y1="157.2" x2="606.6" y2="184.5" stroke="#5a8fe0" stroke-width="1.1"/>
<line x1="608" y1="157.2" x2="608" y2="184.5" stroke="#666" stroke-width="1.1"/>
<line x1="611.4" y1="157.2" x2="611.4" y2="184.5" stroke="#3aaa5a" stroke-width="1.1"/>
<line x1="615.3" y1="157.2" x2="615.3" y2="184.5" stroke="#e8474a" stroke-width="1.1"/>
<line x1="617.8" y1="157.2" x2="617.8" y2="184.5" stroke="#2f7de1" stroke-width="1.1"/>
<line x1="619" y1="157.2" x2="619" y2="184.5" stroke="#2f7de1" stroke-width="1.1"/>
<line x1="624.3" y1="157.2" x2="624.3" y2="184.5" stroke="#666" stroke-width="1.1"/>
<line x1="626.4" y1="157.2" x2="626.4" y2="184.5" stroke="#b36fe0" stroke-width="1.1"/>
<line x1="629.8" y1="157.2" x2="629.8" y2="184.5" stroke="#e8474a" stroke-width="1.1"/>
<line x1="633.8" y1="157.2" x2="633.8" y2="184.5" stroke="#666" stroke-width="1.1"/>
<line x1="636.3" y1="157.2" x2="636.3" y2="184.5" stroke="#2f7de1" stroke-width="1.1"/>
<line x1="638.1" y1="157.2" x2="638.1" y2="184.5" stroke="#3aaa5a" stroke-width="1.1"/>
<line x1="639.7" y1="157.2" x2="639.7" y2="184.5" stroke="#666" stroke-width="1.1"/>
<line x1="643.5" y1="157.2" x2="643.5" y2="184.5" stroke="#3aaa5a" stroke-width="1.1"/>
<line x1="648.8" y1="157.2" x2="648.8" y2="184.5" stroke="#666" stroke-width="1.1"/>
<line x1="652.1" y1="157.2" x2="652.1" y2="184.5" stroke="#3aaa5a" stroke-width="1.1"/>
<line x1="655" y1="157.2" x2="655" y2="184.5" stroke="#666" stroke-width="1.1"/>
<line x1="660.5" y1="157.2" x2="660.5" y2="184.5" stroke="#666" stroke-width="1.1"/>
<line x1="666.5" y1="157.2" x2="666.5" y2="184.5" stroke="#3aaa5a" stroke-width="1.1"/>
<line x1="669.2" y1="157.2" x2="669.2" y2="184.5" stroke="#b36fe0" stroke-width="1.1"/>
<line x1="673.1" y1="157.2" x2="673.1" y2="184.5" stroke="#666" stroke-width="1.1"/>
<line x1="674.8" y1="157.2" x2="674.8" y2="184.5" stroke="#b36fe0" stroke-width="1.1"/>
<line x1="336.6" y1="157.2" x2="677.6" y2="157.2" stroke="#7a7a7a" stroke-width="1.2"/>
<line x1="336.6" y1="157.2" x2="336.6" y2="184.5" stroke="#8c8c8c" stroke-width="1.1"/>
<line x1="677.6" y1="157.2" x2="677.6" y2="184.5" stroke="#555" stroke-width="1.1"/>
<polyline points="336.6,157.2 336.6,135.5 377.3,135.5" fill="none" stroke="#2a2220" stroke-width="1.2"/>
<line x1="377.3" y1="135.5" x2="377.3" y2="122.8" stroke="#2a2220" stroke-width="1.1"/>
<polygon points="377.3,118.8 374.90000000000003,123.8 379.7,123.8" fill="#2a2220"/>
<polyline points="367.4,184.5 367.4,135.5 462.4,135.5" fill="none" stroke="#2f7de1" stroke-width="1.2"/>
<line x1="462.4" y1="135.5" x2="462.4" y2="122.8" stroke="#2f7de1" stroke-width="1.1"/>
<polygon points="462.4,118.8 460.0,123.8 464.79999999999995,123.8" fill="#2f7de1"/>
<polyline points="382.4,184.5 382.4,135.5 550.6,135.5" fill="none" stroke="#3aaa5a" stroke-width="1.2"/>
<line x1="550.6" y1="135.5" x2="550.6" y2="122.8" stroke="#3aaa5a" stroke-width="1.1"/>
<polygon points="550.6,118.8 548.2,123.8 553.0,123.8" fill="#3aaa5a"/>
<polyline points="387.4,184.5 387.4,135.5 635.2,135.5" fill="none" stroke="#666" stroke-width="1.2"/>
<line x1="635.2" y1="135.5" x2="635.2" y2="122.8" stroke="#666" stroke-width="1.1"/>
<polygon points="635.2,118.8 632.8000000000001,123.8 637.6,123.8" fill="#666"/>
<line x1="336.6" y1="184.5" x2="677.6" y2="184.5" stroke="#555" stroke-width="1.2"/>
<line x1="336.6" y1="184.5" x2="336.6" y2="187.5" stroke="#555" stroke-width="1"/>
<text x="329.76" y="198.1" font-size="10.3" textLength="14.03" lengthAdjust="spacingAndGlyphs" fill="#231f20" >0.0</text>
<line x1="404.8" y1="184.5" x2="404.8" y2="187.5" stroke="#555" stroke-width="1"/>
<text x="398.01" y="198.1" font-size="10.3" textLength="14.03" lengthAdjust="spacingAndGlyphs" fill="#231f20" >0.1</text>
<line x1="473.0" y1="184.5" x2="473.0" y2="187.5" stroke="#555" stroke-width="1"/>
<text x="466.24" y="198.1" font-size="10.3" textLength="14.03" lengthAdjust="spacingAndGlyphs" fill="#231f20" >0.2</text>
<line x1="541.2" y1="184.5" x2="541.2" y2="187.5" stroke="#555" stroke-width="1"/>
<text x="534.38" y="198.1" font-size="10.3" textLength="14.03" lengthAdjust="spacingAndGlyphs" fill="#231f20" >0.3</text>
<line x1="609.4" y1="184.5" x2="609.4" y2="187.5" stroke="#555" stroke-width="1"/>
<text x="602.53" y="198.1" font-size="10.3" textLength="14.03" lengthAdjust="spacingAndGlyphs" fill="#231f20" >0.4</text>
<line x1="677.6" y1="184.5" x2="677.6" y2="187.5" stroke="#555" stroke-width="1"/>
<text x="670.78" y="198.1" font-size="10.3" textLength="14.03" lengthAdjust="spacingAndGlyphs" fill="#231f20" >0.5</text>
<text x="445.50" y="217.7" font-size="12.5" textLength="113.96" lengthAdjust="spacingAndGlyphs" fill="#231f20" >Relative energy (eV)</text>
<text x="-1.76" y="249.9" font-size="16.8" textLength="20.64" lengthAdjust="spacingAndGlyphs" fill="#2b2020" >(c)</text>
<rect x="73.4" y="286.06" width="22.19999999999999" height="149.94" fill="#4a4a4a" stroke="#231f20" stroke-width="0.9"/>
<rect x="101.4" y="383.24" width="22.0" height="52.76" fill="#cf4a3c" stroke="#231f20" stroke-width="0.9"/>
<rect x="129.5" y="402.97" width="21.5" height="33.03" fill="#ee6d41" stroke="#231f20" stroke-width="0.9"/>
<rect x="157.3" y="431.82" width="22.0" height="4.18" fill="#7fcab8" stroke="#231f20" stroke-width="0.9"/>
<rect x="185.5" y="383.24" width="21.69999999999999" height="52.76" fill="#1b8a6b" stroke="#231f20" stroke-width="0.9"/>
<rect x="213.2" y="385.13" width="21.5" height="50.87" fill="#4b92c3" stroke="#231f20" stroke-width="0.9"/>
<rect x="241.3" y="401.08" width="21.5" height="34.92" fill="#6760ad" stroke="#231f20" stroke-width="0.9"/>
<line x1="181.9" y1="246.2" x2="181.9" y2="436.0" stroke="#3a3030" stroke-width="1.3" stroke-dasharray="7.3 7.22" stroke-dashoffset="3.8"/>
<polyline points="50.4,246.2 286.4,246.2 286.4,436.0 50.4,436.0 50.4,246.2" fill="none" stroke="#231f20" stroke-width="1.3"/>
<line x1="45.9" y1="436.00" x2="50.4" y2="436.00" stroke="#231f20" stroke-width="1"/>
<text x="30.79" y="439.2" font-size="9.8" textLength="13.35" lengthAdjust="spacingAndGlyphs" fill="#231f20" >0.0</text>
<line x1="45.9" y1="398.04" x2="50.4" y2="398.04" stroke="#231f20" stroke-width="1"/>
<text x="30.88" y="401.24" font-size="9.8" textLength="13.35" lengthAdjust="spacingAndGlyphs" fill="#231f20" >0.1</text>
<line x1="45.9" y1="360.08" x2="50.4" y2="360.08" stroke="#231f20" stroke-width="1"/>
<text x="30.93" y="363.28" font-size="9.8" textLength="13.35" lengthAdjust="spacingAndGlyphs" fill="#231f20" >0.2</text>
<line x1="45.9" y1="322.12" x2="50.4" y2="322.12" stroke="#231f20" stroke-width="1"/>
<text x="30.83" y="325.32" font-size="9.8" textLength="13.35" lengthAdjust="spacingAndGlyphs" fill="#231f20" >0.3</text>
<line x1="45.9" y1="284.16" x2="50.4" y2="284.16" stroke="#231f20" stroke-width="1"/>
<text x="30.74" y="287.36" font-size="9.8" textLength="13.35" lengthAdjust="spacingAndGlyphs" fill="#231f20" >0.4</text>
<line x1="45.9" y1="246.20" x2="50.4" y2="246.20" stroke="#231f20" stroke-width="1"/>
<text x="30.83" y="249.4" font-size="9.8" textLength="13.35" lengthAdjust="spacingAndGlyphs" fill="#231f20" >0.5</text>
<text x="93.10" y="263.9" font-size="11.8" textLength="47.56" lengthAdjust="spacingAndGlyphs" fill="#231f20" >Interface</text>
<text x="210.96" y="263.6" font-size="11.8" textLength="41.60" lengthAdjust="spacingAndGlyphs" fill="#231f20" >Surface</text>
<g transform="translate(24.7,369.4) rotate(-90)">
<text x="-1.01" y="0" font-size="12.0" textLength="58.69" lengthAdjust="spacingAndGlyphs" fill="#231f20" >Probability</text>
</g>
<text x="79.90" y="446.2" font-size="9.8" fill="#231f20">I<tspan dy="3.4" font-size="5.8">A</tspan></text>
<text x="107.80" y="446.2" font-size="9.8" fill="#231f20">I<tspan dy="3.4" font-size="5.8">B</tspan></text>
<text x="135.65" y="446.2" font-size="9.8" fill="#231f20">I<tspan dy="3.4" font-size="5.8">C</tspan></text>
<text x="163.70" y="446.2" font-size="9.8" fill="#231f20">I<tspan dy="3.4" font-size="5.8">D</tspan></text>
<text x="189.15" y="446.3" font-size="9.8" fill="#231f20">O<tspan dy="3.2" font-size="5.4">E</tspan></text>
<text x="216.75" y="446.3" font-size="9.8" fill="#231f20">O<tspan dy="3.2" font-size="5.4">F</tspan></text>
<text x="244.85" y="446.3" font-size="9.8" fill="#231f20">O<tspan dy="3.2" font-size="5.4">G</tspan></text>
<text x="154.43" y="460.9" font-size="12.0" textLength="27.98" lengthAdjust="spacingAndGlyphs" fill="#231f20" >Sites</text>
<text x="318.33" y="250.3" font-size="16.8" textLength="21.89" lengthAdjust="spacingAndGlyphs" fill="#2b2020" >(d)</text>
<clipPath id="cpd"><rect x="435.9" y="332.6" width="142.0" height="112.29999999999995"/></clipPath>
<g clip-path="url(#cpd)"><rect x="435.9" y="332.6" width="142.0" height="112.29999999999995" fill="#e8321c"/><circle cx="428.8" cy="318.0" r="16.4" fill="url(#gC2)"/><circle cx="459.2" cy="318.0" r="16.4" fill="url(#gC2)"/><circle cx="489.8" cy="318.0" r="16.4" fill="url(#gC2)"/><circle cx="520.2" cy="318.0" r="16.4" fill="url(#gC2)"/><circle cx="550.8" cy="318.0" r="16.4" fill="url(#gC2)"/><circle cx="581.2" cy="318.0" r="16.4" fill="url(#gC2)"/><circle cx="611.8" cy="318.0" r="16.4" fill="url(#gC2)"/><circle cx="642.2" cy="318.0" r="16.4" fill="url(#gC2)"/><circle cx="413.5" cy="345.0" r="16.4" fill="url(#gC2)"/><circle cx="444.0" cy="345.0" r="16.4" fill="url(#gC2)"/><circle cx="474.5" cy="345.0" r="16.4" fill="url(#gC2)"/><circle cx="505.0" cy="345.0" r="16.4" fill="url(#gC2)"/><circle cx="535.5" cy="345.0" r="16.4" fill="url(#gC2)"/><circle cx="566.0" cy="345.0" r="16.4" fill="url(#gC2)"/><circle cx="596.5" cy="345.0" r="16.4" fill="url(#gC2)"/><circle cx="627.0" cy="345.0" r="16.4" fill="url(#gC2)"/><circle cx="428.8" cy="372.0" r="16.4" fill="url(#gC2)"/><circle cx="459.2" cy="372.0" r="16.4" fill="url(#gC2)"/><circle cx="489.8" cy="372.0" r="16.4" fill="url(#gC2)"/><circle cx="520.2" cy="372.0" r="16.4" fill="url(#gC2)"/><circle cx="550.8" cy="372.0" r="16.4" fill="url(#gC2)"/><circle cx="581.2" cy="372.0" r="16.4" fill="url(#gC2)"/><circle cx="611.8" cy="372.0" r="16.4" fill="url(#gC2)"/><circle cx="642.2" cy="372.0" r="16.4" fill="url(#gC2)"/><circle cx="413.5" cy="399.0" r="16.4" fill="url(#gC2)"/><circle cx="444.0" cy="399.0" r="16.4" fill="url(#gC2)"/><circle cx="474.5" cy="399.0" r="16.4" fill="url(#gC2)"/><circle cx="505.0" cy="399.0" r="16.4" fill="url(#gC2)"/><circle cx="535.5" cy="399.0" r="16.4" fill="url(#gC2)"/><circle cx="566.0" cy="399.0" r="16.4" fill="url(#gC2)"/><circle cx="596.5" cy="399.0" r="16.4" fill="url(#gC2)"/><circle cx="627.0" cy="399.0" r="16.4" fill="url(#gC2)"/><circle cx="428.8" cy="426.0" r="16.4" fill="url(#gC2)"/><circle cx="459.2" cy="426.0" r="16.4" fill="url(#gC2)"/><circle cx="489.8" cy="426.0" r="16.4" fill="url(#gC2)"/><circle cx="520.2" cy="426.0" r="16.4" fill="url(#gC2)"/><circle cx="550.8" cy="426.0" r="16.4" fill="url(#gC2)"/><circle cx="581.2" cy="426.0" r="16.4" fill="url(#gC2)"/><circle cx="611.8" cy="426.0" r="16.4" fill="url(#gC2)"/><circle cx="642.2" cy="426.0" r="16.4" fill="url(#gC2)"/><circle cx="413.5" cy="453.0" r="16.4" fill="url(#gC2)"/><circle cx="444.0" cy="453.0" r="16.4" fill="url(#gC2)"/><circle cx="474.5" cy="453.0" r="16.4" fill="url(#gC2)"/><circle cx="505.0" cy="453.0" r="16.4" fill="url(#gC2)"/><circle cx="535.5" cy="453.0" r="16.4" fill="url(#gC2)"/><circle cx="566.0" cy="453.0" r="16.4" fill="url(#gC2)"/><circle cx="596.5" cy="453.0" r="16.4" fill="url(#gC2)"/><circle cx="627.0" cy="453.0" r="16.4" fill="url(#gC2)"/><circle cx="428.8" cy="480.0" r="16.4" fill="url(#gC2)"/><circle cx="459.2" cy="480.0" r="16.4" fill="url(#gC2)"/><circle cx="489.8" cy="480.0" r="16.4" fill="url(#gC2)"/><circle cx="520.2" cy="480.0" r="16.4" fill="url(#gC2)"/><circle cx="550.8" cy="480.0" r="16.4" fill="url(#gC2)"/><circle cx="581.2" cy="480.0" r="16.4" fill="url(#gC2)"/><circle cx="611.8" cy="480.0" r="16.4" fill="url(#gC2)"/><circle cx="642.2" cy="480.0" r="16.4" fill="url(#gC2)"/><path d="M441.8,321.0 C444.8,324.0 449.2,329.0 448.9,331.5 C448.2,336.3 435.2,336.3 434.6,331.5 C434.2,329.0 438.8,324.0 441.8,321.0Z" fill="url(#gR)"/><path d="M472.2,321.0 C475.2,324.0 479.8,329.0 479.4,331.5 C478.8,336.3 465.8,336.3 465.1,331.5 C464.8,329.0 469.2,324.0 472.2,321.0Z" fill="url(#gR)"/><path d="M502.8,321.0 C505.8,324.0 510.2,329.0 509.9,331.5 C509.2,336.3 496.2,336.3 495.6,331.5 C495.2,329.0 499.8,324.0 502.8,321.0Z" fill="url(#gR)"/><path d="M533.2,321.0 C536.2,324.0 540.8,329.0 540.5,331.5 C539.8,336.3 526.8,336.3 526.0,331.5 C525.8,329.0 530.2,324.0 533.2,321.0Z" fill="url(#gR)"/><path d="M563.8,321.0 C566.8,324.0 571.2,329.0 571.0,331.5 C570.2,336.3 557.2,336.3 556.5,331.5 C556.2,329.0 560.8,324.0 563.8,321.0Z" fill="url(#gR)"/><path d="M594.2,321.0 C597.2,324.0 601.8,329.0 601.5,331.5 C600.8,336.3 587.8,336.3 587.0,331.5 C586.8,329.0 591.2,324.0 594.2,321.0Z" fill="url(#gR)"/><path d="M624.8,321.0 C627.8,324.0 632.2,329.0 632.0,331.5 C631.2,336.3 618.2,336.3 617.5,331.5 C617.2,329.0 621.8,324.0 624.8,321.0Z" fill="url(#gR)"/><path d="M655.2,321.0 C658.2,324.0 662.8,329.0 662.5,331.5 C661.8,336.3 648.8,336.3 648.0,331.5 C647.8,329.0 652.2,324.0 655.2,321.0Z" fill="url(#gR)"/><path d="M426.5,348.0 C429.5,351.0 434.0,356.0 433.7,358.5 C433.0,363.3 420.0,363.3 419.3,358.5 C419.0,356.0 423.5,351.0 426.5,348.0Z" fill="url(#gR)"/><path d="M457.0,348.0 C460.0,351.0 464.5,356.0 464.2,358.5 C463.5,363.3 450.5,363.3 449.8,358.5 C449.5,356.0 454.0,351.0 457.0,348.0Z" fill="url(#gR)"/><path d="M487.5,348.0 C490.5,351.0 495.0,356.0 494.7,358.5 C494.0,363.3 481.0,363.3 480.3,358.5 C480.0,356.0 484.5,351.0 487.5,348.0Z" fill="url(#gR)"/><path d="M518.0,348.0 C521.0,351.0 525.5,356.0 525.2,358.5 C524.5,363.3 511.5,363.3 510.8,358.5 C510.5,356.0 515.0,351.0 518.0,348.0Z" fill="url(#gR)"/><path d="M548.5,348.0 C551.5,351.0 556.0,356.0 555.7,358.5 C555.0,363.3 542.0,363.3 541.3,358.5 C541.0,356.0 545.5,351.0 548.5,348.0Z" fill="url(#gR)"/><path d="M579.0,348.0 C582.0,351.0 586.5,356.0 586.2,358.5 C585.5,363.3 572.5,363.3 571.8,358.5 C571.5,356.0 576.0,351.0 579.0,348.0Z" fill="url(#gR)"/><path d="M609.5,348.0 C612.5,351.0 617.0,356.0 616.7,358.5 C616.0,363.3 603.0,363.3 602.3,358.5 C602.0,356.0 606.5,351.0 609.5,348.0Z" fill="url(#gR)"/><path d="M640.0,348.0 C643.0,351.0 647.5,356.0 647.2,358.5 C646.5,363.3 633.5,363.3 632.8,358.5 C632.5,356.0 637.0,351.0 640.0,348.0Z" fill="url(#gR)"/><path d="M441.8,375.0 C444.8,378.0 449.2,383.0 448.9,385.5 C448.2,390.3 435.2,390.3 434.6,385.5 C434.2,383.0 438.8,378.0 441.8,375.0Z" fill="url(#gR)"/><path d="M472.2,375.0 C475.2,378.0 479.8,383.0 479.4,385.5 C478.8,390.3 465.8,390.3 465.1,385.5 C464.8,383.0 469.2,378.0 472.2,375.0Z" fill="url(#gR)"/><path d="M502.8,375.0 C505.8,378.0 510.2,383.0 509.9,385.5 C509.2,390.3 496.2,390.3 495.6,385.5 C495.2,383.0 499.8,378.0 502.8,375.0Z" fill="url(#gR)"/><path d="M533.2,375.0 C536.2,378.0 540.8,383.0 540.5,385.5 C539.8,390.3 526.8,390.3 526.0,385.5 C525.8,383.0 530.2,378.0 533.2,375.0Z" fill="url(#gR)"/><path d="M563.8,375.0 C566.8,378.0 571.2,383.0 571.0,385.5 C570.2,390.3 557.2,390.3 556.5,385.5 C556.2,383.0 560.8,378.0 563.8,375.0Z" fill="url(#gR)"/><path d="M594.2,375.0 C597.2,378.0 601.8,383.0 601.5,385.5 C600.8,390.3 587.8,390.3 587.0,385.5 C586.8,383.0 591.2,378.0 594.2,375.0Z" fill="url(#gR)"/><path d="M624.8,375.0 C627.8,378.0 632.2,383.0 632.0,385.5 C631.2,390.3 618.2,390.3 617.5,385.5 C617.2,383.0 621.8,378.0 624.8,375.0Z" fill="url(#gR)"/><path d="M655.2,375.0 C658.2,378.0 662.8,383.0 662.5,385.5 C661.8,390.3 648.8,390.3 648.0,385.5 C647.8,383.0 652.2,378.0 655.2,375.0Z" fill="url(#gR)"/><path d="M426.5,402.0 C429.5,405.0 434.0,410.0 433.7,412.5 C433.0,417.3 420.0,417.3 419.3,412.5 C419.0,410.0 423.5,405.0 426.5,402.0Z" fill="url(#gR)"/><path d="M457.0,402.0 C460.0,405.0 464.5,410.0 464.2,412.5 C463.5,417.3 450.5,417.3 449.8,412.5 C449.5,410.0 454.0,405.0 457.0,402.0Z" fill="url(#gR)"/><path d="M487.5,402.0 C490.5,405.0 495.0,410.0 494.7,412.5 C494.0,417.3 481.0,417.3 480.3,412.5 C480.0,410.0 484.5,405.0 487.5,402.0Z" fill="url(#gR)"/><path d="M518.0,402.0 C521.0,405.0 525.5,410.0 525.2,412.5 C524.5,417.3 511.5,417.3 510.8,412.5 C510.5,410.0 515.0,405.0 518.0,402.0Z" fill="url(#gR)"/><path d="M548.5,402.0 C551.5,405.0 556.0,410.0 555.7,412.5 C555.0,417.3 542.0,417.3 541.3,412.5 C541.0,410.0 545.5,405.0 548.5,402.0Z" fill="url(#gR)"/><path d="M579.0,402.0 C582.0,405.0 586.5,410.0 586.2,412.5 C585.5,417.3 572.5,417.3 571.8,412.5 C571.5,410.0 576.0,405.0 579.0,402.0Z" fill="url(#gR)"/><path d="M609.5,402.0 C612.5,405.0 617.0,410.0 616.7,412.5 C616.0,417.3 603.0,417.3 602.3,412.5 C602.0,410.0 606.5,405.0 609.5,402.0Z" fill="url(#gR)"/><path d="M640.0,402.0 C643.0,405.0 647.5,410.0 647.2,412.5 C646.5,417.3 633.5,417.3 632.8,412.5 C632.5,410.0 637.0,405.0 640.0,402.0Z" fill="url(#gR)"/><path d="M441.8,429.0 C444.8,432.0 449.2,437.0 448.9,439.5 C448.2,444.3 435.2,444.3 434.6,439.5 C434.2,437.0 438.8,432.0 441.8,429.0Z" fill="url(#gR)"/><path d="M472.2,429.0 C475.2,432.0 479.8,437.0 479.4,439.5 C478.8,444.3 465.8,444.3 465.1,439.5 C464.8,437.0 469.2,432.0 472.2,429.0Z" fill="url(#gR)"/><path d="M502.8,429.0 C505.8,432.0 510.2,437.0 509.9,439.5 C509.2,444.3 496.2,444.3 495.6,439.5 C495.2,437.0 499.8,432.0 502.8,429.0Z" fill="url(#gR)"/><path d="M533.2,429.0 C536.2,432.0 540.8,437.0 540.5,439.5 C539.8,444.3 526.8,444.3 526.0,439.5 C525.8,437.0 530.2,432.0 533.2,429.0Z" fill="url(#gR)"/><path d="M563.8,429.0 C566.8,432.0 571.2,437.0 571.0,439.5 C570.2,444.3 557.2,444.3 556.5,439.5 C556.2,437.0 560.8,432.0 563.8,429.0Z" fill="url(#gR)"/><path d="M594.2,429.0 C597.2,432.0 601.8,437.0 601.5,439.5 C600.8,444.3 587.8,444.3 587.0,439.5 C586.8,437.0 591.2,432.0 594.2,429.0Z" fill="url(#gR)"/><path d="M624.8,429.0 C627.8,432.0 632.2,437.0 632.0,439.5 C631.2,444.3 618.2,444.3 617.5,439.5 C617.2,437.0 621.8,432.0 624.8,429.0Z" fill="url(#gR)"/><path d="M655.2,429.0 C658.2,432.0 662.8,437.0 662.5,439.5 C661.8,444.3 648.8,444.3 648.0,439.5 C647.8,437.0 652.2,432.0 655.2,429.0Z" fill="url(#gR)"/><path d="M426.5,456.0 C429.5,459.0 434.0,464.0 433.7,466.5 C433.0,471.3 420.0,471.3 419.3,466.5 C419.0,464.0 423.5,459.0 426.5,456.0Z" fill="url(#gR)"/><path d="M457.0,456.0 C460.0,459.0 464.5,464.0 464.2,466.5 C463.5,471.3 450.5,471.3 449.8,466.5 C449.5,464.0 454.0,459.0 457.0,456.0Z" fill="url(#gR)"/><path d="M487.5,456.0 C490.5,459.0 495.0,464.0 494.7,466.5 C494.0,471.3 481.0,471.3 480.3,466.5 C480.0,464.0 484.5,459.0 487.5,456.0Z" fill="url(#gR)"/><path d="M518.0,456.0 C521.0,459.0 525.5,464.0 525.2,466.5 C524.5,471.3 511.5,471.3 510.8,466.5 C510.5,464.0 515.0,459.0 518.0,456.0Z" fill="url(#gR)"/><path d="M548.5,456.0 C551.5,459.0 556.0,464.0 555.7,466.5 C555.0,471.3 542.0,471.3 541.3,466.5 C541.0,464.0 545.5,459.0 548.5,456.0Z" fill="url(#gR)"/><path d="M579.0,456.0 C582.0,459.0 586.5,464.0 586.2,466.5 C585.5,471.3 572.5,471.3 571.8,466.5 C571.5,464.0 576.0,459.0 579.0,456.0Z" fill="url(#gR)"/><path d="M609.5,456.0 C612.5,459.0 617.0,464.0 616.7,466.5 C616.0,471.3 603.0,471.3 602.3,466.5 C602.0,464.0 606.5,459.0 609.5,456.0Z" fill="url(#gR)"/><path d="M640.0,456.0 C643.0,459.0 647.5,464.0 647.2,466.5 C646.5,471.3 633.5,471.3 632.8,466.5 C632.5,464.0 637.0,459.0 640.0,456.0Z" fill="url(#gR)"/><path d="M441.8,483.0 C444.8,486.0 449.2,491.0 448.9,493.5 C448.2,498.3 435.2,498.3 434.6,493.5 C434.2,491.0 438.8,486.0 441.8,483.0Z" fill="url(#gR)"/><path d="M472.2,483.0 C475.2,486.0 479.8,491.0 479.4,493.5 C478.8,498.3 465.8,498.3 465.1,493.5 C464.8,491.0 469.2,486.0 472.2,483.0Z" fill="url(#gR)"/><path d="M502.8,483.0 C505.8,486.0 510.2,491.0 509.9,493.5 C509.2,498.3 496.2,498.3 495.6,493.5 C495.2,491.0 499.8,486.0 502.8,483.0Z" fill="url(#gR)"/><path d="M533.2,483.0 C536.2,486.0 540.8,491.0 540.5,493.5 C539.8,498.3 526.8,498.3 526.0,493.5 C525.8,491.0 530.2,486.0 533.2,483.0Z" fill="url(#gR)"/><path d="M563.8,483.0 C566.8,486.0 571.2,491.0 571.0,493.5 C570.2,498.3 557.2,498.3 556.5,493.5 C556.2,491.0 560.8,486.0 563.8,483.0Z" fill="url(#gR)"/><path d="M594.2,483.0 C597.2,486.0 601.8,491.0 601.5,493.5 C600.8,498.3 587.8,498.3 587.0,493.5 C586.8,491.0 591.2,486.0 594.2,483.0Z" fill="url(#gR)"/><path d="M624.8,483.0 C627.8,486.0 632.2,491.0 632.0,493.5 C631.2,498.3 618.2,498.3 617.5,493.5 C617.2,491.0 621.8,486.0 624.8,483.0Z" fill="url(#gR)"/><path d="M655.2,483.0 C658.2,486.0 662.8,491.0 662.5,493.5 C661.8,498.3 648.8,498.3 648.0,493.5 C647.8,491.0 652.2,486.0 655.2,483.0Z" fill="url(#gR)"/><circle cx="505.8" cy="368.0" r="10.0" fill="url(#gT)"/><circle cx="473.0" cy="387.8" r="11.5" fill="url(#gT)"/><circle cx="534.6" cy="387.8" r="11.5" fill="url(#gT)"/><circle cx="469.0" cy="400.5" r="6.2" fill="url(#gR)"/><circle cx="537.6" cy="400.7" r="6.2" fill="url(#gR)"/><circle cx="488.4" cy="377.6" r="13.8" fill="url(#gT)"/><circle cx="522.9" cy="371.5" r="13.4" fill="url(#gT)"/><circle cx="506.6" cy="377.5" r="6.2" fill="url(#gR)"/><circle cx="487.0" cy="408.5" r="12.4" fill="url(#gT)"/><circle cx="521.3" cy="410.5" r="12.6" fill="url(#gT)"/><circle cx="486.5" cy="396.5" r="6.4" fill="url(#gR)"/><circle cx="523.2" cy="395.5" r="7.2" fill="url(#gR)"/><circle cx="505.4" cy="395.0" r="12.5" fill="url(#gT)"/><circle cx="504.3" cy="412.5" r="5.8" fill="url(#gR)"/><circle cx="466.4" cy="367.7" r="8.8" fill="url(#gR)"/><circle cx="477.6" cy="373.3" r="6.8" fill="url(#gG)"/><circle cx="543.5" cy="362.8" r="8.8" fill="url(#gR)"/><circle cx="533.0" cy="366.3" r="7.0" fill="url(#gG)"/></g>
<rect x="435.9" y="332.6" width="142" height="112.3" fill="none" stroke="#111" stroke-width="2"/>
<clipPath id="ccOF"><circle cx="386.9" cy="296.2" r="38.5"/></clipPath>
<g clip-path="url(#ccOF)"><rect x="346.9" y="256.2" width="80" height="80" fill="#f0e09e"/><circle cx="378.0" cy="262.0" r="13.0" fill="url(#gC)"/><path d="M367.1,264.6 A10.9,11.7 0 0 1 388.9,264.6 A12.3,2.9 0 0 0 367.1,264.6Z" fill="#e8301a"/><circle cx="412.0" cy="272.0" r="11.0" fill="url(#gC)"/><path d="M402.8,274.2 A9.2,9.9 0 0 1 421.2,274.2 A10.4,2.4 0 0 0 402.8,274.2Z" fill="#e8301a"/><circle cx="353.0" cy="268.0" r="7.0" fill="url(#gR)"/><circle cx="363.3" cy="271.4" r="6.0" fill="url(#gR)"/><circle cx="350.0" cy="291.0" r="8.5" fill="url(#gT)"/><ellipse cx="361.3" cy="287.0" rx="6.5" ry="9.7" fill="url(#gR)"/><circle cx="414.8" cy="296.0" r="12.5" fill="url(#gT)"/><circle cx="403.7" cy="292.3" r="5.8" fill="url(#gR)"/><circle cx="421.6" cy="308.3" r="5.5" fill="url(#gR)"/><circle cx="367.0" cy="312.7" r="17.5" fill="url(#gT)"/><circle cx="402.0" cy="315.0" r="17.5" fill="url(#gT)"/><circle cx="378.8" cy="321.0" r="9.8" fill="url(#gR)"/><circle cx="382.3" cy="287.4" r="18.5" fill="url(#gT)"/><circle cx="389.5" cy="284.0" r="8.7" fill="url(#gG)"/><ellipse cx="396.3" cy="274.8" rx="10.7" ry="13.1" fill="url(#gR)"/></g>
<circle cx="386.9" cy="296.2" r="38.8" fill="none" stroke="#8d8d8d" stroke-width="1.6"/>
<text x="373.60" y="351.9" font-size="12.5" fill="#231f20">O<tspan dy="4.4" font-size="7.4">F</tspan></text>
<clipPath id="ccIB"><circle cx="507.3" cy="263" r="38.5"/></clipPath>
<g clip-path="url(#ccIB)"><rect x="467.3" y="223" width="80" height="80" fill="#127a7b"/><circle cx="459.0" cy="290.0" r="11.0" fill="url(#gC)"/><path d="M449.8,292.2 A9.2,9.9 0 0 1 468.2,292.2 A10.4,2.4 0 0 0 449.8,292.2Z" fill="#e8301a"/><circle cx="482.5" cy="289.5" r="11.5" fill="url(#gC)"/><path d="M472.8,291.8 A9.7,10.3 0 0 1 492.2,291.8 A10.9,2.5 0 0 0 472.8,291.8Z" fill="#e8301a"/><circle cx="530.5" cy="289.5" r="11.5" fill="url(#gC)"/><path d="M520.8,291.8 A9.7,10.3 0 0 1 540.2,291.8 A10.9,2.5 0 0 0 520.8,291.8Z" fill="#e8301a"/><circle cx="554.0" cy="290.0" r="11.0" fill="url(#gC)"/><path d="M544.8,292.2 A9.2,9.9 0 0 1 563.2,292.2 A10.4,2.4 0 0 0 544.8,292.2Z" fill="#e8301a"/><circle cx="505.2" cy="294.5" r="13.0" fill="url(#gC)"/><path d="M494.3,297.1 A10.9,11.7 0 0 1 516.1,297.1 A12.3,2.9 0 0 0 494.3,297.1Z" fill="#e8301a"/><circle cx="470.0" cy="309.0" r="13.0" fill="url(#gC)"/><path d="M459.1,311.6 A10.9,11.7 0 0 1 480.9,311.6 A12.3,2.9 0 0 0 459.1,311.6Z" fill="#e8301a"/><circle cx="494.0" cy="311.0" r="13.0" fill="url(#gC)"/><path d="M483.1,313.6 A10.9,11.7 0 0 1 504.9,313.6 A12.3,2.9 0 0 0 483.1,313.6Z" fill="#e8301a"/><circle cx="518.0" cy="311.0" r="13.0" fill="url(#gC)"/><path d="M507.1,313.6 A10.9,11.7 0 0 1 528.9,313.6 A12.3,2.9 0 0 0 507.1,313.6Z" fill="#e8301a"/><circle cx="542.0" cy="309.0" r="13.0" fill="url(#gC)"/><path d="M531.1,311.6 A10.9,11.7 0 0 1 552.9,311.6 A12.3,2.9 0 0 0 531.1,311.6Z" fill="#e8301a"/><circle cx="477.3" cy="258.9" r="11.0" fill="url(#gT)"/><circle cx="534.5" cy="257.8" r="11.0" fill="url(#gT)"/><ellipse cx="485.0" cy="242.0" rx="15.2" ry="13.5" fill="url(#gT)"/><ellipse cx="526.4" cy="240.0" rx="14.8" ry="13.5" fill="url(#gT)"/><circle cx="506.4" cy="242.6" r="8.0" fill="url(#gR)"/><circle cx="482.7" cy="266.4" r="9.0" fill="url(#gR)"/><circle cx="529.1" cy="267.5" r="9.0" fill="url(#gR)"/><circle cx="506.4" cy="265.4" r="16.3" fill="url(#gT)"/></g>
<circle cx="507.3" cy="263" r="38.8" fill="none" stroke="#8d8d8d" stroke-width="1.6"/>
<text x="503.10" y="313.8" font-size="12.5" fill="#231f20">I<tspan dy="4.3" font-size="6.6">B</tspan></text>
<clipPath id="ccOG"><circle cx="629.3" cy="299.5" r="38.5"/></clipPath>
<g clip-path="url(#ccOG)"><rect x="589.3" y="259.5" width="80" height="80" fill="#ffffff"/><circle cx="652.0" cy="334.0" r="7.0" fill="url(#gC)"/><path d="M646.1,335.4 A5.9,6.3 0 0 1 657.9,335.4 A6.6,1.5 0 0 0 646.1,335.4Z" fill="#e8301a"/><circle cx="591.9" cy="301.8" r="9.0" fill="url(#gT)"/><circle cx="599.4" cy="302.9" r="8.5" fill="url(#gR)"/><circle cx="603.8" cy="321.3" r="13.5" fill="url(#gT)"/><circle cx="630.8" cy="321.3" r="15.5" fill="url(#gT)"/><circle cx="615.6" cy="315.9" r="4.5" fill="url(#gR)"/><circle cx="622.1" cy="327.8" r="8.5" fill="url(#gR)"/><circle cx="620.0" cy="298.6" r="15.5" fill="url(#gT)"/><circle cx="634.0" cy="286.7" r="8.5" fill="url(#gG)"/><circle cx="643.7" cy="278.1" r="9.5" fill="url(#gR)"/></g>
<circle cx="629.3" cy="299.5" r="38.8" fill="none" stroke="#8d8d8d" stroke-width="1.6"/>
<text x="622.20" y="351.9" font-size="12.5" fill="#231f20">O<tspan dy="4.4" font-size="7.4">G</tspan></text>
<clipPath id="ccOE"><circle cx="374" cy="404.5" r="38.5"/></clipPath>
<g clip-path="url(#ccOE)"><rect x="334" y="364.5" width="80" height="80" fill="#ffffff"/><circle cx="374" cy="462" r="28" fill="#f0e09e"/><circle cx="375.0" cy="426.0" r="11.0" fill="url(#gT)"/><circle cx="352.4" cy="438.0" r="9.5" fill="url(#gC)"/><path d="M344.4,439.9 A8.0,8.6 0 0 1 360.4,439.9 A9.0,2.1 0 0 0 344.4,439.9Z" fill="#e8301a"/><circle cx="375.4" cy="442.0" r="10.0" fill="url(#gC)"/><path d="M367.0,444.0 A8.4,9.0 0 0 1 383.8,444.0 A9.5,2.2 0 0 0 367.0,444.0Z" fill="#e8301a"/><circle cx="396.0" cy="438.0" r="9.5" fill="url(#gC)"/><path d="M388.0,439.9 A8.0,8.6 0 0 1 404.0,439.9 A9.0,2.1 0 0 0 388.0,439.9Z" fill="#e8301a"/><circle cx="338.0" cy="443.0" r="8.0" fill="url(#gC)"/><path d="M331.3,444.6 A6.7,7.2 0 0 1 344.7,444.6 A7.6,1.8 0 0 0 331.3,444.6Z" fill="#e8301a"/><circle cx="411.0" cy="443.0" r="8.0" fill="url(#gC)"/><path d="M404.3,444.6 A6.7,7.2 0 0 1 417.7,444.6 A7.6,1.8 0 0 0 404.3,444.6Z" fill="#e8301a"/><circle cx="337.7" cy="406.5" r="6.0" fill="url(#gT)"/><circle cx="353.3" cy="384.0" r="13.5" fill="url(#gT)"/><circle cx="394.7" cy="387.5" r="13.5" fill="url(#gT)"/><circle cx="374.0" cy="394.4" r="12.5" fill="url(#gT)"/><circle cx="352.4" cy="397.5" r="7.0" fill="url(#gR)"/><circle cx="397.3" cy="397.5" r="7.0" fill="url(#gR)"/><circle cx="352.4" cy="415.0" r="16.0" fill="url(#gT)"/><circle cx="395.6" cy="415.0" r="16.0" fill="url(#gT)"/><ellipse cx="375.4" cy="412.5" rx="7.4" ry="9.0" fill="url(#gR)"/></g>
<circle cx="374" cy="404.5" r="38.8" fill="none" stroke="#8d8d8d" stroke-width="1.6"/>
<text x="367.20" y="457.6" font-size="12.5" fill="#231f20">O<tspan dy="4.4" font-size="7.4">E</tspan></text>
<clipPath id="ccIA"><circle cx="640.1" cy="404.3" r="38.5"/></clipPath>
<g clip-path="url(#ccIA)"><rect x="600.1" y="364.3" width="80" height="80" fill="#ffffff"/><circle cx="640" cy="462" r="36" fill="#f0e09e"/><circle cx="632.0" cy="418.0" r="10.0" fill="url(#gT)"/><circle cx="616.0" cy="426.5" r="10.0" fill="url(#gC)"/><path d="M607.6,428.5 A8.4,9.0 0 0 1 624.4,428.5 A9.5,2.2 0 0 0 607.6,428.5Z" fill="#e8301a"/><circle cx="642.0" cy="427.0" r="11.5" fill="url(#gC)"/><path d="M632.3,429.3 A9.7,10.3 0 0 1 651.7,429.3 A10.9,2.5 0 0 0 632.3,429.3Z" fill="#e8301a"/><circle cx="667.0" cy="428.0" r="10.0" fill="url(#gC)"/><path d="M658.6,430.0 A8.4,9.0 0 0 1 675.4,430.0 A9.5,2.2 0 0 0 658.6,430.0Z" fill="#e8301a"/><circle cx="625.0" cy="441.0" r="10.5" fill="url(#gC)"/><path d="M616.2,443.1 A8.8,9.5 0 0 1 633.8,443.1 A10.0,2.3 0 0 0 616.2,443.1Z" fill="#e8301a"/><circle cx="651.0" cy="442.0" r="11.0" fill="url(#gC)"/><path d="M641.8,444.2 A9.2,9.9 0 0 1 660.2,444.2 A10.4,2.4 0 0 0 641.8,444.2Z" fill="#e8301a"/><circle cx="652.0" cy="378.0" r="11.5" fill="url(#gT)"/><circle cx="662.3" cy="395.8" r="9.5" fill="url(#gT)"/><circle cx="604.0" cy="401.7" r="7.5" fill="url(#gT)"/><circle cx="618.0" cy="385.3" r="17.5" fill="url(#gT)"/><circle cx="642.5" cy="385.3" r="8.2" fill="url(#gR)"/><circle cx="616.8" cy="404.0" r="9.0" fill="url(#gR)"/><circle cx="668.2" cy="409.8" r="9.0" fill="url(#gR)"/><circle cx="643.7" cy="405.2" r="18.0" fill="url(#gT)"/></g>
<circle cx="640.1" cy="404.3" r="38.8" fill="none" stroke="#8d8d8d" stroke-width="1.6"/>
<text x="634.40" y="457.7" font-size="12.5" fill="#231f20">I<tspan dy="4.3" font-size="6.6">A</tspan></text>
<line x1="488.0" y1="377.6" x2="432.6" y2="330.7" stroke="#111" stroke-width="1.3" stroke-dasharray="7.4 6.8"/>
<polygon points="427.3,326.2 436.1,329.1 432.0,330.2 431.6,334.4" fill="#111"/>
<line x1="505.7" y1="365.5" x2="505.7" y2="326.9" stroke="#111" stroke-width="1.3" stroke-dasharray="7.4 6.8"/>
<polygon points="505.7,319.9 509.2,328.5 505.7,326.1 502.2,328.5" fill="#111"/>
<line x1="523.2" y1="373.3" x2="580.6" y2="331.4" stroke="#111" stroke-width="1.3" stroke-dasharray="7.4 6.8"/>
<polygon points="586.3,327.3 581.4,335.2 581.3,331.0 577.3,329.5" fill="#111"/>
<line x1="506.6" y1="395.3" x2="423.5" y2="404.5" stroke="#111" stroke-width="1.3" stroke-dasharray="7.4 6.8"/>
<polygon points="416.5,405.3 424.7,400.9 422.7,404.6 425.4,407.8" fill="#111"/>
<line x1="522.9" y1="412.3" x2="588.8" y2="406.6" stroke="#111" stroke-width="1.3" stroke-dasharray="7.4 6.8"/>
<polygon points="595.8,406.0 587.5,410.2 589.6,406.5 586.9,403.3" fill="#111"/>
</svg></body></html>
